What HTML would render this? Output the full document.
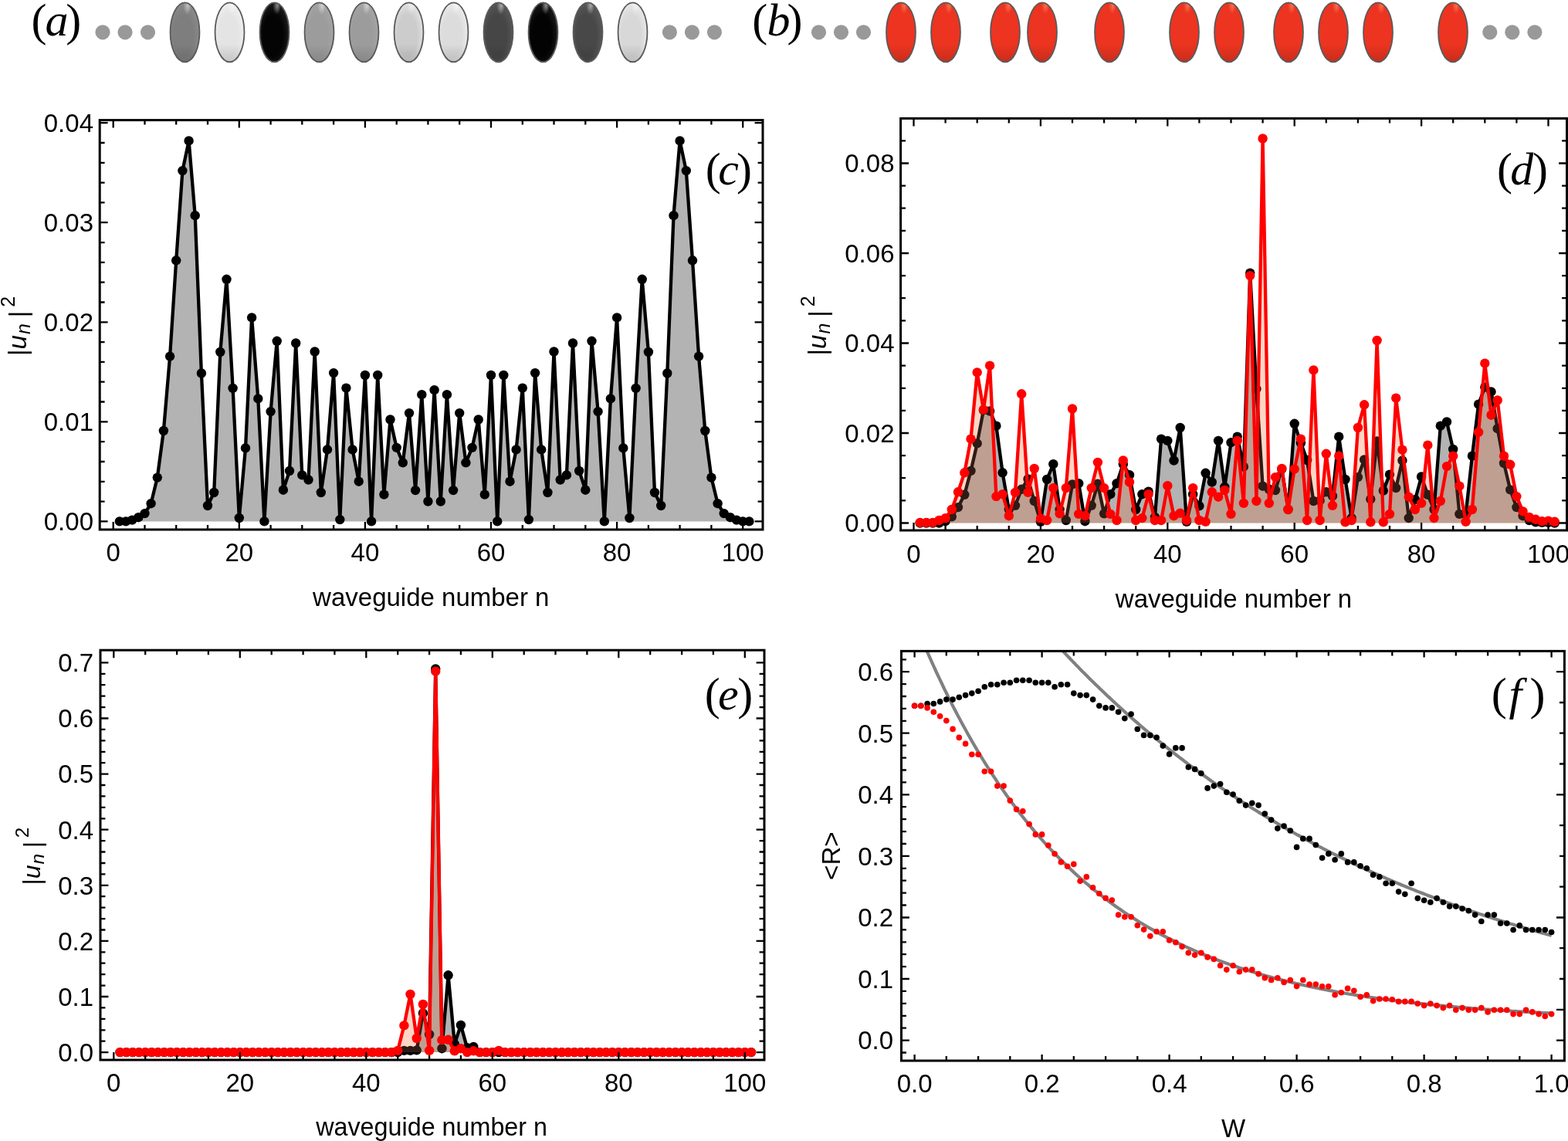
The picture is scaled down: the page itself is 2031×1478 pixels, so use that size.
<!DOCTYPE html>
<html><head><meta charset="utf-8"><title>Figure</title>
<style>html,body{margin:0;padding:0;background:#fff;overflow:hidden;}svg{display:block;}</style>
</head><body>
<svg width="2031" height="1478" viewBox="0 0 2031 1478" font-family="'Liberation Sans', Arial, Helvetica, sans-serif">
<rect width="2031" height="1478" fill="#fff"/>
<defs>
<radialGradient id="hl" cx="0.58" cy="0.06" r="0.14" fx="0.6" fy="0.05"><stop offset="0" stop-color="#fff" stop-opacity="0.5"/><stop offset="1" stop-color="#fff" stop-opacity="0"/></radialGradient>
<radialGradient id="hlr" cx="0.6" cy="0.06" r="0.13" fx="0.62" fy="0.05"><stop offset="0" stop-color="#ffb080" stop-opacity="0.5"/><stop offset="1" stop-color="#ffb080" stop-opacity="0"/></radialGradient>
<linearGradient id="sh" x1="0" y1="0" x2="1" y2="0"><stop offset="0" stop-color="#fff" stop-opacity="0.12"/><stop offset="0.5" stop-color="#000" stop-opacity="0.0"/><stop offset="1" stop-color="#fff" stop-opacity="0.12"/></linearGradient>
<linearGradient id="shv" x1="0" y1="0" x2="0" y2="1"><stop offset="0.7" stop-color="#000" stop-opacity="0"/><stop offset="1" stop-color="#000" stop-opacity="0.15"/></linearGradient>
</defs>
<defs><radialGradient id="eg0" cx="0.45" cy="0.55" r="0.62"><stop offset="0.55" stop-color="#7e7e7e"/><stop offset="1" stop-color="#8d8d8d"/></radialGradient><radialGradient id="eg1" cx="0.45" cy="0.55" r="0.62"><stop offset="0.55" stop-color="#e4e4e4"/><stop offset="1" stop-color="#f2f2f2"/></radialGradient><radialGradient id="eg2" cx="0.45" cy="0.55" r="0.62"><stop offset="0.55" stop-color="#040404"/><stop offset="1" stop-color="#222222"/></radialGradient><radialGradient id="eg3" cx="0.45" cy="0.55" r="0.62"><stop offset="0.55" stop-color="#9c9c9c"/><stop offset="1" stop-color="#a7a7a7"/></radialGradient><radialGradient id="eg4" cx="0.45" cy="0.55" r="0.62"><stop offset="0.55" stop-color="#9c9c9c"/><stop offset="1" stop-color="#a7a7a7"/></radialGradient><radialGradient id="eg5" cx="0.45" cy="0.55" r="0.62"><stop offset="0.55" stop-color="#cccccc"/><stop offset="1" stop-color="#e8e8e8"/></radialGradient><radialGradient id="eg6" cx="0.45" cy="0.55" r="0.62"><stop offset="0.55" stop-color="#dcdcdc"/><stop offset="1" stop-color="#efefef"/></radialGradient><radialGradient id="eg7" cx="0.45" cy="0.55" r="0.62"><stop offset="0.55" stop-color="#464646"/><stop offset="1" stop-color="#5c5c5c"/></radialGradient><radialGradient id="eg8" cx="0.45" cy="0.55" r="0.62"><stop offset="0.55" stop-color="#030303"/><stop offset="1" stop-color="#212121"/></radialGradient><radialGradient id="eg9" cx="0.45" cy="0.55" r="0.62"><stop offset="0.55" stop-color="#484848"/><stop offset="1" stop-color="#5d5d5d"/></radialGradient><radialGradient id="eg10" cx="0.45" cy="0.55" r="0.62"><stop offset="0.55" stop-color="#d8d8d8"/><stop offset="1" stop-color="#ededed"/></radialGradient></defs>
<ellipse cx="239.5" cy="41.85" rx="18.95" ry="38.4" fill="url(#eg0)"/>
<ellipse cx="239.5" cy="41.85" rx="18.95" ry="38.4" fill="url(#hl)"/>
<ellipse cx="239.5" cy="41.85" rx="18.95" ry="38.4" fill="url(#shv)" stroke="#5a5a5a" stroke-width="1.8"/>
<ellipse cx="297.5" cy="41.85" rx="18.95" ry="38.4" fill="url(#eg1)"/>
<ellipse cx="297.5" cy="41.85" rx="18.95" ry="38.4" fill="url(#hl)"/>
<ellipse cx="297.5" cy="41.85" rx="18.95" ry="38.4" fill="url(#shv)" stroke="#5a5a5a" stroke-width="1.8"/>
<ellipse cx="355.5" cy="41.85" rx="18.95" ry="38.4" fill="url(#eg2)"/>
<ellipse cx="355.5" cy="41.85" rx="18.95" ry="38.4" fill="url(#hl)"/>
<ellipse cx="355.5" cy="41.85" rx="18.95" ry="38.4" fill="url(#shv)" stroke="#5a5a5a" stroke-width="1.8"/>
<ellipse cx="413.5" cy="41.85" rx="18.95" ry="38.4" fill="url(#eg3)"/>
<ellipse cx="413.5" cy="41.85" rx="18.95" ry="38.4" fill="url(#hl)"/>
<ellipse cx="413.5" cy="41.85" rx="18.95" ry="38.4" fill="url(#shv)" stroke="#5a5a5a" stroke-width="1.8"/>
<ellipse cx="471.5" cy="41.85" rx="18.95" ry="38.4" fill="url(#eg4)"/>
<ellipse cx="471.5" cy="41.85" rx="18.95" ry="38.4" fill="url(#hl)"/>
<ellipse cx="471.5" cy="41.85" rx="18.95" ry="38.4" fill="url(#shv)" stroke="#5a5a5a" stroke-width="1.8"/>
<ellipse cx="529.5" cy="41.85" rx="18.95" ry="38.4" fill="url(#eg5)"/>
<ellipse cx="529.5" cy="41.85" rx="18.95" ry="38.4" fill="url(#hl)"/>
<ellipse cx="529.5" cy="41.85" rx="18.95" ry="38.4" fill="url(#shv)" stroke="#5a5a5a" stroke-width="1.8"/>
<ellipse cx="587.5" cy="41.85" rx="18.95" ry="38.4" fill="url(#eg6)"/>
<ellipse cx="587.5" cy="41.85" rx="18.95" ry="38.4" fill="url(#hl)"/>
<ellipse cx="587.5" cy="41.85" rx="18.95" ry="38.4" fill="url(#shv)" stroke="#5a5a5a" stroke-width="1.8"/>
<ellipse cx="645.5" cy="41.85" rx="18.95" ry="38.4" fill="url(#eg7)"/>
<ellipse cx="645.5" cy="41.85" rx="18.95" ry="38.4" fill="url(#hl)"/>
<ellipse cx="645.5" cy="41.85" rx="18.95" ry="38.4" fill="url(#shv)" stroke="#5a5a5a" stroke-width="1.8"/>
<ellipse cx="703.5" cy="41.85" rx="18.95" ry="38.4" fill="url(#eg8)"/>
<ellipse cx="703.5" cy="41.85" rx="18.95" ry="38.4" fill="url(#hl)"/>
<ellipse cx="703.5" cy="41.85" rx="18.95" ry="38.4" fill="url(#shv)" stroke="#5a5a5a" stroke-width="1.8"/>
<ellipse cx="761.5" cy="41.85" rx="18.95" ry="38.4" fill="url(#eg9)"/>
<ellipse cx="761.5" cy="41.85" rx="18.95" ry="38.4" fill="url(#hl)"/>
<ellipse cx="761.5" cy="41.85" rx="18.95" ry="38.4" fill="url(#shv)" stroke="#5a5a5a" stroke-width="1.8"/>
<ellipse cx="819.5" cy="41.85" rx="18.95" ry="38.4" fill="url(#eg10)"/>
<ellipse cx="819.5" cy="41.85" rx="18.95" ry="38.4" fill="url(#hl)"/>
<ellipse cx="819.5" cy="41.85" rx="18.95" ry="38.4" fill="url(#shv)" stroke="#5a5a5a" stroke-width="1.8"/>
<ellipse cx="1167" cy="41.85" rx="18.95" ry="38.4" fill="#ec3420"/>
<ellipse cx="1167" cy="41.85" rx="18.95" ry="38.4" fill="url(#hlr)"/>
<ellipse cx="1167" cy="41.85" rx="18.95" ry="38.4" fill="url(#shv)" stroke="#5a5a5a" stroke-width="1.8"/>
<ellipse cx="1225" cy="41.85" rx="18.95" ry="38.4" fill="#ec3420"/>
<ellipse cx="1225" cy="41.85" rx="18.95" ry="38.4" fill="url(#hlr)"/>
<ellipse cx="1225" cy="41.85" rx="18.95" ry="38.4" fill="url(#shv)" stroke="#5a5a5a" stroke-width="1.8"/>
<ellipse cx="1302" cy="41.85" rx="18.95" ry="38.4" fill="#ec3420"/>
<ellipse cx="1302" cy="41.85" rx="18.95" ry="38.4" fill="url(#hlr)"/>
<ellipse cx="1302" cy="41.85" rx="18.95" ry="38.4" fill="url(#shv)" stroke="#5a5a5a" stroke-width="1.8"/>
<ellipse cx="1350" cy="41.85" rx="18.95" ry="38.4" fill="#ec3420"/>
<ellipse cx="1350" cy="41.85" rx="18.95" ry="38.4" fill="url(#hlr)"/>
<ellipse cx="1350" cy="41.85" rx="18.95" ry="38.4" fill="url(#shv)" stroke="#5a5a5a" stroke-width="1.8"/>
<ellipse cx="1437" cy="41.85" rx="18.95" ry="38.4" fill="#ec3420"/>
<ellipse cx="1437" cy="41.85" rx="18.95" ry="38.4" fill="url(#hlr)"/>
<ellipse cx="1437" cy="41.85" rx="18.95" ry="38.4" fill="url(#shv)" stroke="#5a5a5a" stroke-width="1.8"/>
<ellipse cx="1534" cy="41.85" rx="18.95" ry="38.4" fill="#ec3420"/>
<ellipse cx="1534" cy="41.85" rx="18.95" ry="38.4" fill="url(#hlr)"/>
<ellipse cx="1534" cy="41.85" rx="18.95" ry="38.4" fill="url(#shv)" stroke="#5a5a5a" stroke-width="1.8"/>
<ellipse cx="1592" cy="41.85" rx="18.95" ry="38.4" fill="#ec3420"/>
<ellipse cx="1592" cy="41.85" rx="18.95" ry="38.4" fill="url(#hlr)"/>
<ellipse cx="1592" cy="41.85" rx="18.95" ry="38.4" fill="url(#shv)" stroke="#5a5a5a" stroke-width="1.8"/>
<ellipse cx="1669" cy="41.85" rx="18.95" ry="38.4" fill="#ec3420"/>
<ellipse cx="1669" cy="41.85" rx="18.95" ry="38.4" fill="url(#hlr)"/>
<ellipse cx="1669" cy="41.85" rx="18.95" ry="38.4" fill="url(#shv)" stroke="#5a5a5a" stroke-width="1.8"/>
<ellipse cx="1727" cy="41.85" rx="18.95" ry="38.4" fill="#ec3420"/>
<ellipse cx="1727" cy="41.85" rx="18.95" ry="38.4" fill="url(#hlr)"/>
<ellipse cx="1727" cy="41.85" rx="18.95" ry="38.4" fill="url(#shv)" stroke="#5a5a5a" stroke-width="1.8"/>
<ellipse cx="1785" cy="41.85" rx="18.95" ry="38.4" fill="#ec3420"/>
<ellipse cx="1785" cy="41.85" rx="18.95" ry="38.4" fill="url(#hlr)"/>
<ellipse cx="1785" cy="41.85" rx="18.95" ry="38.4" fill="url(#shv)" stroke="#5a5a5a" stroke-width="1.8"/>
<ellipse cx="1882" cy="41.85" rx="18.95" ry="38.4" fill="#ec3420"/>
<ellipse cx="1882" cy="41.85" rx="18.95" ry="38.4" fill="url(#hlr)"/>
<ellipse cx="1882" cy="41.85" rx="18.95" ry="38.4" fill="url(#shv)" stroke="#5a5a5a" stroke-width="1.8"/>
<g fill="#999"><circle cx="133" cy="41.8" r="9.6"/><circle cx="162" cy="41.8" r="9.6"/><circle cx="191.5" cy="41.8" r="9.6"/><circle cx="867.4" cy="41.8" r="9.6"/><circle cx="896.4" cy="41.8" r="9.6"/><circle cx="925.4" cy="41.8" r="9.6"/><circle cx="1060.5" cy="41.8" r="9.6"/><circle cx="1089.5" cy="41.8" r="9.6"/><circle cx="1118.5" cy="41.8" r="9.6"/><circle cx="1929.8" cy="41.8" r="9.6"/><circle cx="1958.8" cy="41.8" r="9.6"/><circle cx="1987.9" cy="41.8" r="9.6"/></g>
<g font-family="'Liberation Serif', 'Times New Roman', serif" font-size="60"><text x="40.5" y="46.0">(</text><text x="58.6" y="46.0" font-style="italic">a</text><text x="85.3" y="46.0">)</text></g>
<g font-family="'Liberation Serif', 'Times New Roman', serif" font-size="60"><text x="974.3" y="46.0">(</text><text x="993.5" y="46.0" font-style="italic">b</text><text x="1019.5" y="46.0">)</text></g>
<clipPath id="cc"><rect x="129.2" y="155.6" width="858.8" height="530.4"/></clipPath>
<g clip-path="url(#cc)">
<g>
<polygon points="154.9,675.4 154.9,675.4 163.0,675.4 171.2,673.6 179.3,670.2 187.5,665.1 195.6,652.2 203.8,618.6 211.9,558.0 220.1,461.6 228.2,337.3 236.4,221.1 244.6,182.4 252.7,279.2 260.9,483.5 269.0,655.0 277.2,638.0 285.3,456.0 293.5,361.8 301.6,502.9 309.8,671.0 318.0,580.4 326.1,411.4 334.3,516.4 342.4,675.4 350.6,533.1 358.7,441.8 366.9,634.7 375.0,610.0 383.2,444.5 391.3,615.4 399.5,621.5 407.7,455.5 415.8,638.0 424.0,582.4 432.1,483.1 440.3,673.1 448.4,502.6 456.6,582.4 464.7,623.7 472.9,486.0 481.1,675.4 489.2,486.0 497.4,640.6 505.5,543.5 513.7,579.9 521.8,599.3 530.0,535.1 538.1,635.1 546.3,511.2 554.4,649.5 562.6,505.2 570.8,649.5 578.9,511.2 587.1,635.1 595.2,535.1 603.4,599.3 611.5,579.9 619.7,543.5 627.8,640.6 636.0,486.0 644.2,675.4 652.3,486.0 660.5,623.7 668.6,582.4 676.8,502.6 684.9,673.1 693.1,483.1 701.2,582.4 709.4,638.0 717.5,455.5 725.7,621.5 733.9,615.4 742.0,444.5 750.2,610.0 758.3,634.7 766.5,441.8 774.6,533.1 782.8,675.4 790.9,516.4 799.1,411.4 807.3,580.4 815.4,671.0 823.6,502.9 831.7,361.8 839.9,456.0 848.0,638.0 856.2,655.0 864.3,483.5 872.5,279.2 880.6,182.4 888.8,221.1 897.0,337.3 905.1,461.6 913.3,558.0 921.4,618.6 929.6,652.2 937.7,665.1 945.9,670.2 954.0,673.6 962.2,675.4 970.4,675.4 970.4,675.4" fill="#b3b3b3"/>
<polyline points="154.9,675.4 163.0,675.4 171.2,673.6 179.3,670.2 187.5,665.1 195.6,652.2 203.8,618.6 211.9,558.0 220.1,461.6 228.2,337.3 236.4,221.1 244.6,182.4 252.7,279.2 260.9,483.5 269.0,655.0 277.2,638.0 285.3,456.0 293.5,361.8 301.6,502.9 309.8,671.0 318.0,580.4 326.1,411.4 334.3,516.4 342.4,675.4 350.6,533.1 358.7,441.8 366.9,634.7 375.0,610.0 383.2,444.5 391.3,615.4 399.5,621.5 407.7,455.5 415.8,638.0 424.0,582.4 432.1,483.1 440.3,673.1 448.4,502.6 456.6,582.4 464.7,623.7 472.9,486.0 481.1,675.4 489.2,486.0 497.4,640.6 505.5,543.5 513.7,579.9 521.8,599.3 530.0,535.1 538.1,635.1 546.3,511.2 554.4,649.5 562.6,505.2 570.8,649.5 578.9,511.2 587.1,635.1 595.2,535.1 603.4,599.3 611.5,579.9 619.7,543.5 627.8,640.6 636.0,486.0 644.2,675.4 652.3,486.0 660.5,623.7 668.6,582.4 676.8,502.6 684.9,673.1 693.1,483.1 701.2,582.4 709.4,638.0 717.5,455.5 725.7,621.5 733.9,615.4 742.0,444.5 750.2,610.0 758.3,634.7 766.5,441.8 774.6,533.1 782.8,675.4 790.9,516.4 799.1,411.4 807.3,580.4 815.4,671.0 823.6,502.9 831.7,361.8 839.9,456.0 848.0,638.0 856.2,655.0 864.3,483.5 872.5,279.2 880.6,182.4 888.8,221.1 897.0,337.3 905.1,461.6 913.3,558.0 921.4,618.6 929.6,652.2 937.7,665.1 945.9,670.2 954.0,673.6 962.2,675.4 970.4,675.4" fill="none" stroke="#000" stroke-width="4.3" stroke-linejoin="round"/>
<g fill="#000"><circle cx="154.9" cy="675.4" r="6.2"/><circle cx="163.0" cy="675.4" r="6.2"/><circle cx="171.2" cy="673.6" r="6.2"/><circle cx="179.3" cy="670.2" r="6.2"/><circle cx="187.5" cy="665.1" r="6.2"/><circle cx="195.6" cy="652.2" r="6.2"/><circle cx="203.8" cy="618.6" r="6.2"/><circle cx="211.9" cy="558.0" r="6.2"/><circle cx="220.1" cy="461.6" r="6.2"/><circle cx="228.2" cy="337.3" r="6.2"/><circle cx="236.4" cy="221.1" r="6.2"/><circle cx="244.6" cy="182.4" r="6.2"/><circle cx="252.7" cy="279.2" r="6.2"/><circle cx="260.9" cy="483.5" r="6.2"/><circle cx="269.0" cy="655.0" r="6.2"/><circle cx="277.2" cy="638.0" r="6.2"/><circle cx="285.3" cy="456.0" r="6.2"/><circle cx="293.5" cy="361.8" r="6.2"/><circle cx="301.6" cy="502.9" r="6.2"/><circle cx="309.8" cy="671.0" r="6.2"/><circle cx="318.0" cy="580.4" r="6.2"/><circle cx="326.1" cy="411.4" r="6.2"/><circle cx="334.3" cy="516.4" r="6.2"/><circle cx="342.4" cy="675.4" r="6.2"/><circle cx="350.6" cy="533.1" r="6.2"/><circle cx="358.7" cy="441.8" r="6.2"/><circle cx="366.9" cy="634.7" r="6.2"/><circle cx="375.0" cy="610.0" r="6.2"/><circle cx="383.2" cy="444.5" r="6.2"/><circle cx="391.3" cy="615.4" r="6.2"/><circle cx="399.5" cy="621.5" r="6.2"/><circle cx="407.7" cy="455.5" r="6.2"/><circle cx="415.8" cy="638.0" r="6.2"/><circle cx="424.0" cy="582.4" r="6.2"/><circle cx="432.1" cy="483.1" r="6.2"/><circle cx="440.3" cy="673.1" r="6.2"/><circle cx="448.4" cy="502.6" r="6.2"/><circle cx="456.6" cy="582.4" r="6.2"/><circle cx="464.7" cy="623.7" r="6.2"/><circle cx="472.9" cy="486.0" r="6.2"/><circle cx="481.1" cy="675.4" r="6.2"/><circle cx="489.2" cy="486.0" r="6.2"/><circle cx="497.4" cy="640.6" r="6.2"/><circle cx="505.5" cy="543.5" r="6.2"/><circle cx="513.7" cy="579.9" r="6.2"/><circle cx="521.8" cy="599.3" r="6.2"/><circle cx="530.0" cy="535.1" r="6.2"/><circle cx="538.1" cy="635.1" r="6.2"/><circle cx="546.3" cy="511.2" r="6.2"/><circle cx="554.4" cy="649.5" r="6.2"/><circle cx="562.6" cy="505.2" r="6.2"/><circle cx="570.8" cy="649.5" r="6.2"/><circle cx="578.9" cy="511.2" r="6.2"/><circle cx="587.1" cy="635.1" r="6.2"/><circle cx="595.2" cy="535.1" r="6.2"/><circle cx="603.4" cy="599.3" r="6.2"/><circle cx="611.5" cy="579.9" r="6.2"/><circle cx="619.7" cy="543.5" r="6.2"/><circle cx="627.8" cy="640.6" r="6.2"/><circle cx="636.0" cy="486.0" r="6.2"/><circle cx="644.2" cy="675.4" r="6.2"/><circle cx="652.3" cy="486.0" r="6.2"/><circle cx="660.5" cy="623.7" r="6.2"/><circle cx="668.6" cy="582.4" r="6.2"/><circle cx="676.8" cy="502.6" r="6.2"/><circle cx="684.9" cy="673.1" r="6.2"/><circle cx="693.1" cy="483.1" r="6.2"/><circle cx="701.2" cy="582.4" r="6.2"/><circle cx="709.4" cy="638.0" r="6.2"/><circle cx="717.5" cy="455.5" r="6.2"/><circle cx="725.7" cy="621.5" r="6.2"/><circle cx="733.9" cy="615.4" r="6.2"/><circle cx="742.0" cy="444.5" r="6.2"/><circle cx="750.2" cy="610.0" r="6.2"/><circle cx="758.3" cy="634.7" r="6.2"/><circle cx="766.5" cy="441.8" r="6.2"/><circle cx="774.6" cy="533.1" r="6.2"/><circle cx="782.8" cy="675.4" r="6.2"/><circle cx="790.9" cy="516.4" r="6.2"/><circle cx="799.1" cy="411.4" r="6.2"/><circle cx="807.3" cy="580.4" r="6.2"/><circle cx="815.4" cy="671.0" r="6.2"/><circle cx="823.6" cy="502.9" r="6.2"/><circle cx="831.7" cy="361.8" r="6.2"/><circle cx="839.9" cy="456.0" r="6.2"/><circle cx="848.0" cy="638.0" r="6.2"/><circle cx="856.2" cy="655.0" r="6.2"/><circle cx="864.3" cy="483.5" r="6.2"/><circle cx="872.5" cy="279.2" r="6.2"/><circle cx="880.6" cy="182.4" r="6.2"/><circle cx="888.8" cy="221.1" r="6.2"/><circle cx="897.0" cy="337.3" r="6.2"/><circle cx="905.1" cy="461.6" r="6.2"/><circle cx="913.3" cy="558.0" r="6.2"/><circle cx="921.4" cy="618.6" r="6.2"/><circle cx="929.6" cy="652.2" r="6.2"/><circle cx="937.7" cy="665.1" r="6.2"/><circle cx="945.9" cy="670.2" r="6.2"/><circle cx="954.0" cy="673.6" r="6.2"/><circle cx="962.2" cy="675.4" r="6.2"/><circle cx="970.4" cy="675.4" r="6.2"/></g>
</g>
</g>
<rect x="129.2" y="155.6" width="858.8" height="530.4" fill="none" stroke="#000" stroke-width="3"/>
<path d="M129.2 675.4h10.4 M129.2 546.3h10.4 M129.2 417.3h10.4 M129.2 288.2h10.4 M129.2 159.2h10.4 M129.2 649.6h6.4 M129.2 623.8h6.4 M129.2 598.0h6.4 M129.2 572.2h6.4 M129.2 520.5h6.4 M129.2 494.7h6.4 M129.2 468.9h6.4 M129.2 443.1h6.4 M129.2 391.5h6.4 M129.2 365.7h6.4 M129.2 339.9h6.4 M129.2 314.1h6.4 M129.2 262.4h6.4 M129.2 236.6h6.4 M129.2 210.8h6.4 M129.2 185.0h6.4 M988.0 675.4h-10.4 M988.0 546.3h-10.4 M988.0 417.3h-10.4 M988.0 288.2h-10.4 M988.0 159.2h-10.4 M988.0 649.6h-6.4 M988.0 623.8h-6.4 M988.0 598.0h-6.4 M988.0 572.2h-6.4 M988.0 520.5h-6.4 M988.0 494.7h-6.4 M988.0 468.9h-6.4 M988.0 443.1h-6.4 M988.0 391.5h-6.4 M988.0 365.7h-6.4 M988.0 339.9h-6.4 M988.0 314.1h-6.4 M988.0 262.4h-6.4 M988.0 236.6h-6.4 M988.0 210.8h-6.4 M988.0 185.0h-6.4" stroke="#000" stroke-width="2.3" fill="none"/>
<path d="M146.7 686.0v-10M146.7 155.6v10 M309.8 686.0v-10M309.8 155.6v10 M472.9 686.0v-10M472.9 155.6v10 M636.0 686.0v-10M636.0 155.6v10 M799.1 686.0v-10M799.1 155.6v10 M962.2 686.0v-10M962.2 155.6v10 M187.5 686.0v-6M187.5 155.6v6 M228.2 686.0v-6M228.2 155.6v6 M269.0 686.0v-6M269.0 155.6v6 M350.6 686.0v-6M350.6 155.6v6 M391.3 686.0v-6M391.3 155.6v6 M432.1 686.0v-6M432.1 155.6v6 M513.7 686.0v-6M513.7 155.6v6 M554.4 686.0v-6M554.4 155.6v6 M595.2 686.0v-6M595.2 155.6v6 M676.8 686.0v-6M676.8 155.6v6 M717.5 686.0v-6M717.5 155.6v6 M758.3 686.0v-6M758.3 155.6v6 M839.9 686.0v-6M839.9 155.6v6 M880.6 686.0v-6M880.6 155.6v6 M921.4 686.0v-6M921.4 155.6v6" stroke="#000" stroke-width="2.3" fill="none"/>
<text x="121.0" y="687.2" text-anchor="end" font-size="33" >0.00</text>
<text x="121.0" y="558.1" text-anchor="end" font-size="33" >0.01</text>
<text x="121.0" y="429.1" text-anchor="end" font-size="33" >0.02</text>
<text x="121.0" y="300.1" text-anchor="end" font-size="33" >0.03</text>
<text x="121.0" y="171.0" text-anchor="end" font-size="33" >0.04</text>
<text x="146.7" y="727.0" text-anchor="middle" font-size="33" >0</text>
<text x="309.8" y="727.0" text-anchor="middle" font-size="33" >20</text>
<text x="472.9" y="727.0" text-anchor="middle" font-size="33" >40</text>
<text x="636.0" y="727.0" text-anchor="middle" font-size="33" >60</text>
<text x="799.1" y="727.0" text-anchor="middle" font-size="33" >80</text>
<text x="962.2" y="727.0" text-anchor="middle" font-size="33" >100</text>
<text x="558.3" y="784.5" text-anchor="middle" font-size="33" >waveguide number n</text>
<g transform="translate(34.4,421.0) rotate(-90) scale(1.0)"><text x="-40" y="0" font-size="33">|<tspan font-style="italic">u</tspan><tspan font-style="italic" font-size="25" dy="5" dx="1">n</tspan><tspan dy="-4" dx="7.9">|</tspan><tspan font-size="25" dy="-16" dx="5">2</tspan></text></g>
<g font-family="'Liberation Serif', 'Times New Roman', serif" font-size="60"><text x="913.8" y="238.6">(</text><text x="930.3" y="238.6" font-style="italic">c</text><text x="954.1" y="238.6">)</text></g>
<clipPath id="cd"><rect x="1166.6" y="153.4" width="862.9000000000001" height="533.6"/></clipPath>
<g clip-path="url(#cd)">
<g>
<polygon points="1191.7,677.5 1191.7,677.5 1199.9,677.5 1208.2,677.5 1216.4,677.5 1224.6,675.2 1232.8,669.3 1241.0,657.1 1249.3,640.8 1257.5,609.9 1265.7,574.4 1273.9,531.3 1282.1,532.5 1290.4,551.7 1298.6,612.3 1306.8,660.0 1315.0,654.8 1323.2,633.8 1331.5,620.4 1339.7,649.0 1347.9,675.8 1356.1,621.0 1364.3,601.2 1372.6,660.0 1380.8,674.0 1389.0,627.4 1397.2,626.2 1405.4,675.2 1413.7,654.8 1421.9,626.8 1430.1,665.3 1438.3,640.2 1446.5,626.2 1454.8,601.2 1463.0,615.2 1471.2,660.0 1479.4,640.2 1487.6,636.7 1495.9,669.9 1504.1,568.6 1512.3,570.9 1520.5,596.5 1528.7,554.0 1537.0,675.8 1545.2,640.2 1553.4,655.4 1561.6,612.8 1569.8,624.5 1578.1,570.9 1586.3,630.9 1594.5,573.2 1602.7,565.7 1610.9,604.7 1619.2,353.6 1627.4,503.9 1635.6,629.7 1643.8,633.8 1652.0,635.0 1660.3,607.6 1668.5,660.0 1676.7,548.8 1684.9,573.8 1693.1,596.0 1701.4,649.0 1709.6,648.4 1717.8,637.3 1726.0,642.5 1734.2,565.7 1742.5,621.0 1750.7,671.1 1758.9,618.1 1767.1,595.4 1775.3,646.6 1783.6,571.5 1791.8,635.6 1800.0,614.6 1808.2,632.1 1816.4,596.5 1824.7,671.1 1832.9,647.2 1841.1,617.5 1849.3,640.8 1857.5,660.0 1865.8,551.7 1874.0,546.4 1882.2,582.0 1890.4,665.9 1898.6,665.9 1906.9,590.7 1915.1,523.7 1923.3,501.6 1931.5,507.4 1939.7,555.2 1948.0,600.0 1956.2,634.4 1964.4,657.1 1972.6,668.2 1980.8,674.0 1989.1,676.3 1997.3,676.9 2005.5,676.9 2013.7,677.5 2013.7,677.5" fill="#b3b3b3"/>
<polyline points="1191.7,677.5 1199.9,677.5 1208.2,677.5 1216.4,677.5 1224.6,675.2 1232.8,669.3 1241.0,657.1 1249.3,640.8 1257.5,609.9 1265.7,574.4 1273.9,531.3 1282.1,532.5 1290.4,551.7 1298.6,612.3 1306.8,660.0 1315.0,654.8 1323.2,633.8 1331.5,620.4 1339.7,649.0 1347.9,675.8 1356.1,621.0 1364.3,601.2 1372.6,660.0 1380.8,674.0 1389.0,627.4 1397.2,626.2 1405.4,675.2 1413.7,654.8 1421.9,626.8 1430.1,665.3 1438.3,640.2 1446.5,626.2 1454.8,601.2 1463.0,615.2 1471.2,660.0 1479.4,640.2 1487.6,636.7 1495.9,669.9 1504.1,568.6 1512.3,570.9 1520.5,596.5 1528.7,554.0 1537.0,675.8 1545.2,640.2 1553.4,655.4 1561.6,612.8 1569.8,624.5 1578.1,570.9 1586.3,630.9 1594.5,573.2 1602.7,565.7 1610.9,604.7 1619.2,353.6 1627.4,503.9 1635.6,629.7 1643.8,633.8 1652.0,635.0 1660.3,607.6 1668.5,660.0 1676.7,548.8 1684.9,573.8 1693.1,596.0 1701.4,649.0 1709.6,648.4 1717.8,637.3 1726.0,642.5 1734.2,565.7 1742.5,621.0 1750.7,671.1 1758.9,618.1 1767.1,595.4 1775.3,646.6 1783.6,571.5 1791.8,635.6 1800.0,614.6 1808.2,632.1 1816.4,596.5 1824.7,671.1 1832.9,647.2 1841.1,617.5 1849.3,640.8 1857.5,660.0 1865.8,551.7 1874.0,546.4 1882.2,582.0 1890.4,665.9 1898.6,665.9 1906.9,590.7 1915.1,523.7 1923.3,501.6 1931.5,507.4 1939.7,555.2 1948.0,600.0 1956.2,634.4 1964.4,657.1 1972.6,668.2 1980.8,674.0 1989.1,676.3 1997.3,676.9 2005.5,676.9 2013.7,677.5" fill="none" stroke="#000" stroke-width="4.3" stroke-linejoin="round"/>
<g fill="#000"><circle cx="1191.7" cy="677.5" r="6.2"/><circle cx="1199.9" cy="677.5" r="6.2"/><circle cx="1208.2" cy="677.5" r="6.2"/><circle cx="1216.4" cy="677.5" r="6.2"/><circle cx="1224.6" cy="675.2" r="6.2"/><circle cx="1232.8" cy="669.3" r="6.2"/><circle cx="1241.0" cy="657.1" r="6.2"/><circle cx="1249.3" cy="640.8" r="6.2"/><circle cx="1257.5" cy="609.9" r="6.2"/><circle cx="1265.7" cy="574.4" r="6.2"/><circle cx="1273.9" cy="531.3" r="6.2"/><circle cx="1282.1" cy="532.5" r="6.2"/><circle cx="1290.4" cy="551.7" r="6.2"/><circle cx="1298.6" cy="612.3" r="6.2"/><circle cx="1306.8" cy="660.0" r="6.2"/><circle cx="1315.0" cy="654.8" r="6.2"/><circle cx="1323.2" cy="633.8" r="6.2"/><circle cx="1331.5" cy="620.4" r="6.2"/><circle cx="1339.7" cy="649.0" r="6.2"/><circle cx="1347.9" cy="675.8" r="6.2"/><circle cx="1356.1" cy="621.0" r="6.2"/><circle cx="1364.3" cy="601.2" r="6.2"/><circle cx="1372.6" cy="660.0" r="6.2"/><circle cx="1380.8" cy="674.0" r="6.2"/><circle cx="1389.0" cy="627.4" r="6.2"/><circle cx="1397.2" cy="626.2" r="6.2"/><circle cx="1405.4" cy="675.2" r="6.2"/><circle cx="1413.7" cy="654.8" r="6.2"/><circle cx="1421.9" cy="626.8" r="6.2"/><circle cx="1430.1" cy="665.3" r="6.2"/><circle cx="1438.3" cy="640.2" r="6.2"/><circle cx="1446.5" cy="626.2" r="6.2"/><circle cx="1454.8" cy="601.2" r="6.2"/><circle cx="1463.0" cy="615.2" r="6.2"/><circle cx="1471.2" cy="660.0" r="6.2"/><circle cx="1479.4" cy="640.2" r="6.2"/><circle cx="1487.6" cy="636.7" r="6.2"/><circle cx="1495.9" cy="669.9" r="6.2"/><circle cx="1504.1" cy="568.6" r="6.2"/><circle cx="1512.3" cy="570.9" r="6.2"/><circle cx="1520.5" cy="596.5" r="6.2"/><circle cx="1528.7" cy="554.0" r="6.2"/><circle cx="1537.0" cy="675.8" r="6.2"/><circle cx="1545.2" cy="640.2" r="6.2"/><circle cx="1553.4" cy="655.4" r="6.2"/><circle cx="1561.6" cy="612.8" r="6.2"/><circle cx="1569.8" cy="624.5" r="6.2"/><circle cx="1578.1" cy="570.9" r="6.2"/><circle cx="1586.3" cy="630.9" r="6.2"/><circle cx="1594.5" cy="573.2" r="6.2"/><circle cx="1602.7" cy="565.7" r="6.2"/><circle cx="1610.9" cy="604.7" r="6.2"/><circle cx="1619.2" cy="353.6" r="6.2"/><circle cx="1627.4" cy="503.9" r="6.2"/><circle cx="1635.6" cy="629.7" r="6.2"/><circle cx="1643.8" cy="633.8" r="6.2"/><circle cx="1652.0" cy="635.0" r="6.2"/><circle cx="1660.3" cy="607.6" r="6.2"/><circle cx="1668.5" cy="660.0" r="6.2"/><circle cx="1676.7" cy="548.8" r="6.2"/><circle cx="1684.9" cy="573.8" r="6.2"/><circle cx="1693.1" cy="596.0" r="6.2"/><circle cx="1701.4" cy="649.0" r="6.2"/><circle cx="1709.6" cy="648.4" r="6.2"/><circle cx="1717.8" cy="637.3" r="6.2"/><circle cx="1726.0" cy="642.5" r="6.2"/><circle cx="1734.2" cy="565.7" r="6.2"/><circle cx="1742.5" cy="621.0" r="6.2"/><circle cx="1750.7" cy="671.1" r="6.2"/><circle cx="1758.9" cy="618.1" r="6.2"/><circle cx="1767.1" cy="595.4" r="6.2"/><circle cx="1775.3" cy="646.6" r="6.2"/><circle cx="1783.6" cy="571.5" r="6.2"/><circle cx="1791.8" cy="635.6" r="6.2"/><circle cx="1800.0" cy="614.6" r="6.2"/><circle cx="1808.2" cy="632.1" r="6.2"/><circle cx="1816.4" cy="596.5" r="6.2"/><circle cx="1824.7" cy="671.1" r="6.2"/><circle cx="1832.9" cy="647.2" r="6.2"/><circle cx="1841.1" cy="617.5" r="6.2"/><circle cx="1849.3" cy="640.8" r="6.2"/><circle cx="1857.5" cy="660.0" r="6.2"/><circle cx="1865.8" cy="551.7" r="6.2"/><circle cx="1874.0" cy="546.4" r="6.2"/><circle cx="1882.2" cy="582.0" r="6.2"/><circle cx="1890.4" cy="665.9" r="6.2"/><circle cx="1898.6" cy="665.9" r="6.2"/><circle cx="1906.9" cy="590.7" r="6.2"/><circle cx="1915.1" cy="523.7" r="6.2"/><circle cx="1923.3" cy="501.6" r="6.2"/><circle cx="1931.5" cy="507.4" r="6.2"/><circle cx="1939.7" cy="555.2" r="6.2"/><circle cx="1948.0" cy="600.0" r="6.2"/><circle cx="1956.2" cy="634.4" r="6.2"/><circle cx="1964.4" cy="657.1" r="6.2"/><circle cx="1972.6" cy="668.2" r="6.2"/><circle cx="1980.8" cy="674.0" r="6.2"/><circle cx="1989.1" cy="676.3" r="6.2"/><circle cx="1997.3" cy="676.9" r="6.2"/><circle cx="2005.5" cy="676.9" r="6.2"/><circle cx="2013.7" cy="677.5" r="6.2"/></g>
</g>
<g>
<polygon points="1191.7,677.5 1191.7,676.9 1199.9,676.9 1208.2,676.9 1216.4,674.0 1224.6,671.1 1232.8,660.0 1241.0,637.3 1249.3,612.3 1257.5,568.6 1265.7,482.4 1273.9,530.7 1282.1,473.6 1290.4,643.1 1298.6,640.2 1306.8,668.2 1315.0,637.9 1323.2,510.3 1331.5,637.9 1339.7,607.0 1347.9,671.7 1356.1,674.0 1364.3,632.1 1372.6,665.3 1380.8,632.1 1389.0,529.5 1397.2,665.9 1405.4,668.2 1413.7,632.1 1421.9,598.9 1430.1,632.1 1438.3,665.9 1446.5,674.0 1454.8,596.5 1463.0,624.5 1471.2,674.0 1479.4,671.1 1487.6,640.2 1495.9,674.0 1504.1,674.0 1512.3,629.2 1520.5,668.2 1528.7,664.7 1537.0,674.0 1545.2,632.1 1553.4,674.0 1561.6,675.8 1569.8,637.3 1578.1,643.7 1586.3,635.0 1594.5,665.9 1602.7,570.9 1610.9,651.9 1619.2,357.1 1627.4,649.0 1635.6,179.5 1643.8,651.9 1652.0,618.1 1660.3,607.0 1668.5,660.0 1676.7,607.6 1684.9,568.6 1693.1,674.0 1701.4,479.4 1709.6,674.0 1717.8,587.8 1726.0,654.8 1734.2,590.7 1742.5,676.3 1750.7,674.0 1758.9,554.0 1767.1,524.3 1775.3,676.3 1783.6,441.0 1791.8,676.3 1800.0,665.9 1808.2,515.6 1816.4,582.6 1824.7,643.7 1832.9,660.0 1841.1,651.9 1849.3,576.7 1857.5,671.1 1865.8,649.0 1874.0,604.1 1882.2,590.7 1890.4,629.7 1898.6,675.8 1906.9,660.0 1915.1,559.8 1923.3,470.7 1931.5,537.7 1939.7,518.5 1948.0,590.7 1956.2,601.8 1964.4,643.1 1972.6,662.4 1980.8,669.9 1989.1,672.8 1997.3,675.2 2005.5,674.6 2013.7,675.8 2013.7,677.5" fill="#ffe5d7" style="mix-blend-mode:multiply"/>
<polygon points="1191.7,677.5 1191.7,676.9 1199.9,676.9 1208.2,676.9 1216.4,674.0 1224.6,671.1 1232.8,660.0 1241.0,637.3 1249.3,612.3 1257.5,568.6 1265.7,482.4 1273.9,530.7 1282.1,473.6 1290.4,643.1 1298.6,640.2 1306.8,668.2 1315.0,637.9 1323.2,510.3 1331.5,637.9 1339.7,607.0 1347.9,671.7 1356.1,674.0 1364.3,632.1 1372.6,665.3 1380.8,632.1 1389.0,529.5 1397.2,665.9 1405.4,668.2 1413.7,632.1 1421.9,598.9 1430.1,632.1 1438.3,665.9 1446.5,674.0 1454.8,596.5 1463.0,624.5 1471.2,674.0 1479.4,671.1 1487.6,640.2 1495.9,674.0 1504.1,674.0 1512.3,629.2 1520.5,668.2 1528.7,664.7 1537.0,674.0 1545.2,632.1 1553.4,674.0 1561.6,675.8 1569.8,637.3 1578.1,643.7 1586.3,635.0 1594.5,665.9 1602.7,570.9 1610.9,651.9 1619.2,357.1 1627.4,649.0 1635.6,179.5 1643.8,651.9 1652.0,618.1 1660.3,607.0 1668.5,660.0 1676.7,607.6 1684.9,568.6 1693.1,674.0 1701.4,479.4 1709.6,674.0 1717.8,587.8 1726.0,654.8 1734.2,590.7 1742.5,676.3 1750.7,674.0 1758.9,554.0 1767.1,524.3 1775.3,676.3 1783.6,441.0 1791.8,676.3 1800.0,665.9 1808.2,515.6 1816.4,582.6 1824.7,643.7 1832.9,660.0 1841.1,651.9 1849.3,576.7 1857.5,671.1 1865.8,649.0 1874.0,604.1 1882.2,590.7 1890.4,629.7 1898.6,675.8 1906.9,660.0 1915.1,559.8 1923.3,470.7 1931.5,537.7 1939.7,518.5 1948.0,590.7 1956.2,601.8 1964.4,643.1 1972.6,662.4 1980.8,669.9 1989.1,672.8 1997.3,675.2 2005.5,674.6 2013.7,675.8 2013.7,677.5" fill="rgb(250,150,122)" fill-opacity="0.18"/>
<polyline points="1191.7,676.9 1199.9,676.9 1208.2,676.9 1216.4,674.0 1224.6,671.1 1232.8,660.0 1241.0,637.3 1249.3,612.3 1257.5,568.6 1265.7,482.4 1273.9,530.7 1282.1,473.6 1290.4,643.1 1298.6,640.2 1306.8,668.2 1315.0,637.9 1323.2,510.3 1331.5,637.9 1339.7,607.0 1347.9,671.7 1356.1,674.0 1364.3,632.1 1372.6,665.3 1380.8,632.1 1389.0,529.5 1397.2,665.9 1405.4,668.2 1413.7,632.1 1421.9,598.9 1430.1,632.1 1438.3,665.9 1446.5,674.0 1454.8,596.5 1463.0,624.5 1471.2,674.0 1479.4,671.1 1487.6,640.2 1495.9,674.0 1504.1,674.0 1512.3,629.2 1520.5,668.2 1528.7,664.7 1537.0,674.0 1545.2,632.1 1553.4,674.0 1561.6,675.8 1569.8,637.3 1578.1,643.7 1586.3,635.0 1594.5,665.9 1602.7,570.9 1610.9,651.9 1619.2,357.1 1627.4,649.0 1635.6,179.5 1643.8,651.9 1652.0,618.1 1660.3,607.0 1668.5,660.0 1676.7,607.6 1684.9,568.6 1693.1,674.0 1701.4,479.4 1709.6,674.0 1717.8,587.8 1726.0,654.8 1734.2,590.7 1742.5,676.3 1750.7,674.0 1758.9,554.0 1767.1,524.3 1775.3,676.3 1783.6,441.0 1791.8,676.3 1800.0,665.9 1808.2,515.6 1816.4,582.6 1824.7,643.7 1832.9,660.0 1841.1,651.9 1849.3,576.7 1857.5,671.1 1865.8,649.0 1874.0,604.1 1882.2,590.7 1890.4,629.7 1898.6,675.8 1906.9,660.0 1915.1,559.8 1923.3,470.7 1931.5,537.7 1939.7,518.5 1948.0,590.7 1956.2,601.8 1964.4,643.1 1972.6,662.4 1980.8,669.9 1989.1,672.8 1997.3,675.2 2005.5,674.6 2013.7,675.8" fill="none" stroke="#ff0000" stroke-width="4.3" stroke-linejoin="round"/>
<g fill="#ff0000"><circle cx="1191.7" cy="676.9" r="6.2"/><circle cx="1199.9" cy="676.9" r="6.2"/><circle cx="1208.2" cy="676.9" r="6.2"/><circle cx="1216.4" cy="674.0" r="6.2"/><circle cx="1224.6" cy="671.1" r="6.2"/><circle cx="1232.8" cy="660.0" r="6.2"/><circle cx="1241.0" cy="637.3" r="6.2"/><circle cx="1249.3" cy="612.3" r="6.2"/><circle cx="1257.5" cy="568.6" r="6.2"/><circle cx="1265.7" cy="482.4" r="6.2"/><circle cx="1273.9" cy="530.7" r="6.2"/><circle cx="1282.1" cy="473.6" r="6.2"/><circle cx="1290.4" cy="643.1" r="6.2"/><circle cx="1298.6" cy="640.2" r="6.2"/><circle cx="1306.8" cy="668.2" r="6.2"/><circle cx="1315.0" cy="637.9" r="6.2"/><circle cx="1323.2" cy="510.3" r="6.2"/><circle cx="1331.5" cy="637.9" r="6.2"/><circle cx="1339.7" cy="607.0" r="6.2"/><circle cx="1347.9" cy="671.7" r="6.2"/><circle cx="1356.1" cy="674.0" r="6.2"/><circle cx="1364.3" cy="632.1" r="6.2"/><circle cx="1372.6" cy="665.3" r="6.2"/><circle cx="1380.8" cy="632.1" r="6.2"/><circle cx="1389.0" cy="529.5" r="6.2"/><circle cx="1397.2" cy="665.9" r="6.2"/><circle cx="1405.4" cy="668.2" r="6.2"/><circle cx="1413.7" cy="632.1" r="6.2"/><circle cx="1421.9" cy="598.9" r="6.2"/><circle cx="1430.1" cy="632.1" r="6.2"/><circle cx="1438.3" cy="665.9" r="6.2"/><circle cx="1446.5" cy="674.0" r="6.2"/><circle cx="1454.8" cy="596.5" r="6.2"/><circle cx="1463.0" cy="624.5" r="6.2"/><circle cx="1471.2" cy="674.0" r="6.2"/><circle cx="1479.4" cy="671.1" r="6.2"/><circle cx="1487.6" cy="640.2" r="6.2"/><circle cx="1495.9" cy="674.0" r="6.2"/><circle cx="1504.1" cy="674.0" r="6.2"/><circle cx="1512.3" cy="629.2" r="6.2"/><circle cx="1520.5" cy="668.2" r="6.2"/><circle cx="1528.7" cy="664.7" r="6.2"/><circle cx="1537.0" cy="674.0" r="6.2"/><circle cx="1545.2" cy="632.1" r="6.2"/><circle cx="1553.4" cy="674.0" r="6.2"/><circle cx="1561.6" cy="675.8" r="6.2"/><circle cx="1569.8" cy="637.3" r="6.2"/><circle cx="1578.1" cy="643.7" r="6.2"/><circle cx="1586.3" cy="635.0" r="6.2"/><circle cx="1594.5" cy="665.9" r="6.2"/><circle cx="1602.7" cy="570.9" r="6.2"/><circle cx="1610.9" cy="651.9" r="6.2"/><circle cx="1619.2" cy="357.1" r="6.2"/><circle cx="1627.4" cy="649.0" r="6.2"/><circle cx="1635.6" cy="179.5" r="6.2"/><circle cx="1643.8" cy="651.9" r="6.2"/><circle cx="1652.0" cy="618.1" r="6.2"/><circle cx="1660.3" cy="607.0" r="6.2"/><circle cx="1668.5" cy="660.0" r="6.2"/><circle cx="1676.7" cy="607.6" r="6.2"/><circle cx="1684.9" cy="568.6" r="6.2"/><circle cx="1693.1" cy="674.0" r="6.2"/><circle cx="1701.4" cy="479.4" r="6.2"/><circle cx="1709.6" cy="674.0" r="6.2"/><circle cx="1717.8" cy="587.8" r="6.2"/><circle cx="1726.0" cy="654.8" r="6.2"/><circle cx="1734.2" cy="590.7" r="6.2"/><circle cx="1742.5" cy="676.3" r="6.2"/><circle cx="1750.7" cy="674.0" r="6.2"/><circle cx="1758.9" cy="554.0" r="6.2"/><circle cx="1767.1" cy="524.3" r="6.2"/><circle cx="1775.3" cy="676.3" r="6.2"/><circle cx="1783.6" cy="441.0" r="6.2"/><circle cx="1791.8" cy="676.3" r="6.2"/><circle cx="1800.0" cy="665.9" r="6.2"/><circle cx="1808.2" cy="515.6" r="6.2"/><circle cx="1816.4" cy="582.6" r="6.2"/><circle cx="1824.7" cy="643.7" r="6.2"/><circle cx="1832.9" cy="660.0" r="6.2"/><circle cx="1841.1" cy="651.9" r="6.2"/><circle cx="1849.3" cy="576.7" r="6.2"/><circle cx="1857.5" cy="671.1" r="6.2"/><circle cx="1865.8" cy="649.0" r="6.2"/><circle cx="1874.0" cy="604.1" r="6.2"/><circle cx="1882.2" cy="590.7" r="6.2"/><circle cx="1890.4" cy="629.7" r="6.2"/><circle cx="1898.6" cy="675.8" r="6.2"/><circle cx="1906.9" cy="660.0" r="6.2"/><circle cx="1915.1" cy="559.8" r="6.2"/><circle cx="1923.3" cy="470.7" r="6.2"/><circle cx="1931.5" cy="537.7" r="6.2"/><circle cx="1939.7" cy="518.5" r="6.2"/><circle cx="1948.0" cy="590.7" r="6.2"/><circle cx="1956.2" cy="601.8" r="6.2"/><circle cx="1964.4" cy="643.1" r="6.2"/><circle cx="1972.6" cy="662.4" r="6.2"/><circle cx="1980.8" cy="669.9" r="6.2"/><circle cx="1989.1" cy="672.8" r="6.2"/><circle cx="1997.3" cy="675.2" r="6.2"/><circle cx="2005.5" cy="674.6" r="6.2"/><circle cx="2013.7" cy="675.8" r="6.2"/></g>
</g>
</g>
<rect x="1166.6" y="153.4" width="862.9" height="533.6" fill="none" stroke="#000" stroke-width="3"/>
<path d="M1166.6 677.5h10.4 M1166.6 561.0h10.4 M1166.6 444.5h10.4 M1166.6 328.0h10.4 M1166.6 211.5h10.4 M1166.6 648.4h6.4 M1166.6 619.2h6.4 M1166.6 590.1h6.4 M1166.6 531.9h6.4 M1166.6 502.8h6.4 M1166.6 473.6h6.4 M1166.6 415.4h6.4 M1166.6 386.2h6.4 M1166.6 357.1h6.4 M1166.6 298.9h6.4 M1166.6 269.7h6.4 M1166.6 240.6h6.4 M1166.6 182.4h6.4 M2029.5 677.5h-10.4 M2029.5 561.0h-10.4 M2029.5 444.5h-10.4 M2029.5 328.0h-10.4 M2029.5 211.5h-10.4 M2029.5 648.4h-6.4 M2029.5 619.2h-6.4 M2029.5 590.1h-6.4 M2029.5 531.9h-6.4 M2029.5 502.8h-6.4 M2029.5 473.6h-6.4 M2029.5 415.4h-6.4 M2029.5 386.2h-6.4 M2029.5 357.1h-6.4 M2029.5 298.9h-6.4 M2029.5 269.7h-6.4 M2029.5 240.6h-6.4 M2029.5 182.4h-6.4" stroke="#000" stroke-width="2.3" fill="none"/>
<path d="M1183.5 687.0v-10M1183.5 153.4v10 M1347.9 687.0v-10M1347.9 153.4v10 M1512.3 687.0v-10M1512.3 153.4v10 M1676.7 687.0v-10M1676.7 153.4v10 M1841.1 687.0v-10M1841.1 153.4v10 M2005.5 687.0v-10M2005.5 153.4v10 M1224.6 687.0v-6M1224.6 153.4v6 M1265.7 687.0v-6M1265.7 153.4v6 M1306.8 687.0v-6M1306.8 153.4v6 M1389.0 687.0v-6M1389.0 153.4v6 M1430.1 687.0v-6M1430.1 153.4v6 M1471.2 687.0v-6M1471.2 153.4v6 M1553.4 687.0v-6M1553.4 153.4v6 M1594.5 687.0v-6M1594.5 153.4v6 M1635.6 687.0v-6M1635.6 153.4v6 M1717.8 687.0v-6M1717.8 153.4v6 M1758.9 687.0v-6M1758.9 153.4v6 M1800.0 687.0v-6M1800.0 153.4v6 M1882.2 687.0v-6M1882.2 153.4v6 M1923.3 687.0v-6M1923.3 153.4v6 M1964.4 687.0v-6M1964.4 153.4v6" stroke="#000" stroke-width="2.3" fill="none"/>
<text x="1158.5" y="689.3" text-anchor="end" font-size="33" >0.00</text>
<text x="1158.5" y="572.8" text-anchor="end" font-size="33" >0.02</text>
<text x="1158.5" y="456.3" text-anchor="end" font-size="33" >0.04</text>
<text x="1158.5" y="339.8" text-anchor="end" font-size="33" >0.06</text>
<text x="1158.5" y="223.3" text-anchor="end" font-size="33" >0.08</text>
<text x="1183.5" y="729.3" text-anchor="middle" font-size="33" >0</text>
<text x="1347.9" y="729.3" text-anchor="middle" font-size="33" >20</text>
<text x="1512.3" y="729.3" text-anchor="middle" font-size="33" >40</text>
<text x="1676.7" y="729.3" text-anchor="middle" font-size="33" >60</text>
<text x="1841.1" y="729.3" text-anchor="middle" font-size="33" >80</text>
<text x="2005.5" y="729.3" text-anchor="middle" font-size="33" >100</text>
<text x="1598.0" y="787.1" text-anchor="middle" font-size="33" >waveguide number n</text>
<g transform="translate(1070.0,420.5) rotate(-90) scale(1.0)"><text x="-40" y="0" font-size="33">|<tspan font-style="italic">u</tspan><tspan font-style="italic" font-size="25" dy="5" dx="1">n</tspan><tspan dy="-4" dx="7.9">|</tspan><tspan font-size="25" dy="-16" dx="5">2</tspan></text></g>
<g font-family="'Liberation Serif', 'Times New Roman', serif" font-size="60"><text x="1939.0" y="238.5">(</text><text x="1956.3" y="238.5" font-style="italic">d</text><text x="1985.0" y="238.5">)</text></g>
<clipPath id="ce"><rect x="130.0" y="842.2" width="860.0" height="530.8"/></clipPath>
<g clip-path="url(#ce)">
<g>
<polygon points="155.5,1363.1 155.5,1363.1 163.7,1363.1 171.8,1363.1 180.0,1363.1 188.2,1363.1 196.4,1363.1 204.5,1363.1 212.7,1363.1 220.9,1363.1 229.1,1363.1 237.2,1363.1 245.4,1363.1 253.6,1363.1 261.8,1363.1 269.9,1363.1 278.1,1363.1 286.3,1363.1 294.5,1363.1 302.6,1363.1 310.8,1363.1 319.0,1363.1 327.2,1363.1 335.3,1363.1 343.5,1363.1 351.7,1363.1 359.9,1363.1 368.0,1363.1 376.2,1363.1 384.4,1363.1 392.6,1363.1 400.7,1363.1 408.9,1363.1 417.1,1363.1 425.3,1363.1 433.4,1363.1 441.6,1363.1 449.8,1363.1 458.0,1363.1 466.1,1363.1 474.3,1363.1 482.5,1363.1 490.7,1363.1 498.8,1363.1 507.0,1363.1 515.2,1363.1 523.4,1360.9 531.5,1360.9 539.7,1360.4 547.9,1312.5 556.1,1340.0 564.2,866.4 572.4,1358.2 580.6,1263.3 588.8,1352.3 596.9,1327.9 605.1,1357.3 613.3,1355.9 621.5,1363.1 629.6,1363.1 637.8,1363.1 646.0,1363.1 654.2,1363.1 662.3,1363.1 670.5,1363.1 678.7,1363.1 686.9,1363.1 695.0,1363.1 703.2,1363.1 711.4,1363.1 719.5,1363.1 727.7,1363.1 735.9,1363.1 744.1,1363.1 752.2,1363.1 760.4,1363.1 768.6,1363.1 776.8,1363.1 785.0,1363.1 793.1,1363.1 801.3,1363.1 809.5,1363.1 817.7,1363.1 825.8,1363.1 834.0,1363.1 842.2,1363.1 850.4,1363.1 858.5,1363.1 866.7,1363.1 874.9,1363.1 883.1,1363.1 891.2,1363.1 899.4,1363.1 907.6,1363.1 915.8,1363.1 923.9,1363.1 932.1,1363.1 940.3,1363.1 948.5,1363.1 956.6,1363.1 964.8,1363.1 973.0,1363.1 973.0,1363.1" fill="#b3b3b3"/>
<polyline points="155.5,1363.1 163.7,1363.1 171.8,1363.1 180.0,1363.1 188.2,1363.1 196.4,1363.1 204.5,1363.1 212.7,1363.1 220.9,1363.1 229.1,1363.1 237.2,1363.1 245.4,1363.1 253.6,1363.1 261.8,1363.1 269.9,1363.1 278.1,1363.1 286.3,1363.1 294.5,1363.1 302.6,1363.1 310.8,1363.1 319.0,1363.1 327.2,1363.1 335.3,1363.1 343.5,1363.1 351.7,1363.1 359.9,1363.1 368.0,1363.1 376.2,1363.1 384.4,1363.1 392.6,1363.1 400.7,1363.1 408.9,1363.1 417.1,1363.1 425.3,1363.1 433.4,1363.1 441.6,1363.1 449.8,1363.1 458.0,1363.1 466.1,1363.1 474.3,1363.1 482.5,1363.1 490.7,1363.1 498.8,1363.1 507.0,1363.1 515.2,1363.1 523.4,1360.9 531.5,1360.9 539.7,1360.4 547.9,1312.5 556.1,1340.0 564.2,866.4 572.4,1358.2 580.6,1263.3 588.8,1352.3 596.9,1327.9 605.1,1357.3 613.3,1355.9 621.5,1363.1 629.6,1363.1 637.8,1363.1 646.0,1363.1 654.2,1363.1 662.3,1363.1 670.5,1363.1 678.7,1363.1 686.9,1363.1 695.0,1363.1 703.2,1363.1 711.4,1363.1 719.5,1363.1 727.7,1363.1 735.9,1363.1 744.1,1363.1 752.2,1363.1 760.4,1363.1 768.6,1363.1 776.8,1363.1 785.0,1363.1 793.1,1363.1 801.3,1363.1 809.5,1363.1 817.7,1363.1 825.8,1363.1 834.0,1363.1 842.2,1363.1 850.4,1363.1 858.5,1363.1 866.7,1363.1 874.9,1363.1 883.1,1363.1 891.2,1363.1 899.4,1363.1 907.6,1363.1 915.8,1363.1 923.9,1363.1 932.1,1363.1 940.3,1363.1 948.5,1363.1 956.6,1363.1 964.8,1363.1 973.0,1363.1" fill="none" stroke="#000" stroke-width="4.3" stroke-linejoin="round"/>
<g fill="#000"><circle cx="155.5" cy="1363.1" r="6.2"/><circle cx="163.7" cy="1363.1" r="6.2"/><circle cx="171.8" cy="1363.1" r="6.2"/><circle cx="180.0" cy="1363.1" r="6.2"/><circle cx="188.2" cy="1363.1" r="6.2"/><circle cx="196.4" cy="1363.1" r="6.2"/><circle cx="204.5" cy="1363.1" r="6.2"/><circle cx="212.7" cy="1363.1" r="6.2"/><circle cx="220.9" cy="1363.1" r="6.2"/><circle cx="229.1" cy="1363.1" r="6.2"/><circle cx="237.2" cy="1363.1" r="6.2"/><circle cx="245.4" cy="1363.1" r="6.2"/><circle cx="253.6" cy="1363.1" r="6.2"/><circle cx="261.8" cy="1363.1" r="6.2"/><circle cx="269.9" cy="1363.1" r="6.2"/><circle cx="278.1" cy="1363.1" r="6.2"/><circle cx="286.3" cy="1363.1" r="6.2"/><circle cx="294.5" cy="1363.1" r="6.2"/><circle cx="302.6" cy="1363.1" r="6.2"/><circle cx="310.8" cy="1363.1" r="6.2"/><circle cx="319.0" cy="1363.1" r="6.2"/><circle cx="327.2" cy="1363.1" r="6.2"/><circle cx="335.3" cy="1363.1" r="6.2"/><circle cx="343.5" cy="1363.1" r="6.2"/><circle cx="351.7" cy="1363.1" r="6.2"/><circle cx="359.9" cy="1363.1" r="6.2"/><circle cx="368.0" cy="1363.1" r="6.2"/><circle cx="376.2" cy="1363.1" r="6.2"/><circle cx="384.4" cy="1363.1" r="6.2"/><circle cx="392.6" cy="1363.1" r="6.2"/><circle cx="400.7" cy="1363.1" r="6.2"/><circle cx="408.9" cy="1363.1" r="6.2"/><circle cx="417.1" cy="1363.1" r="6.2"/><circle cx="425.3" cy="1363.1" r="6.2"/><circle cx="433.4" cy="1363.1" r="6.2"/><circle cx="441.6" cy="1363.1" r="6.2"/><circle cx="449.8" cy="1363.1" r="6.2"/><circle cx="458.0" cy="1363.1" r="6.2"/><circle cx="466.1" cy="1363.1" r="6.2"/><circle cx="474.3" cy="1363.1" r="6.2"/><circle cx="482.5" cy="1363.1" r="6.2"/><circle cx="490.7" cy="1363.1" r="6.2"/><circle cx="498.8" cy="1363.1" r="6.2"/><circle cx="507.0" cy="1363.1" r="6.2"/><circle cx="515.2" cy="1363.1" r="6.2"/><circle cx="523.4" cy="1360.9" r="6.2"/><circle cx="531.5" cy="1360.9" r="6.2"/><circle cx="539.7" cy="1360.4" r="6.2"/><circle cx="547.9" cy="1312.5" r="6.2"/><circle cx="556.1" cy="1340.0" r="6.2"/><circle cx="564.2" cy="866.4" r="6.2"/><circle cx="572.4" cy="1358.2" r="6.2"/><circle cx="580.6" cy="1263.3" r="6.2"/><circle cx="588.8" cy="1352.3" r="6.2"/><circle cx="596.9" cy="1327.9" r="6.2"/><circle cx="605.1" cy="1357.3" r="6.2"/><circle cx="613.3" cy="1355.9" r="6.2"/><circle cx="621.5" cy="1363.1" r="6.2"/><circle cx="629.6" cy="1363.1" r="6.2"/><circle cx="637.8" cy="1363.1" r="6.2"/><circle cx="646.0" cy="1363.1" r="6.2"/><circle cx="654.2" cy="1363.1" r="6.2"/><circle cx="662.3" cy="1363.1" r="6.2"/><circle cx="670.5" cy="1363.1" r="6.2"/><circle cx="678.7" cy="1363.1" r="6.2"/><circle cx="686.9" cy="1363.1" r="6.2"/><circle cx="695.0" cy="1363.1" r="6.2"/><circle cx="703.2" cy="1363.1" r="6.2"/><circle cx="711.4" cy="1363.1" r="6.2"/><circle cx="719.5" cy="1363.1" r="6.2"/><circle cx="727.7" cy="1363.1" r="6.2"/><circle cx="735.9" cy="1363.1" r="6.2"/><circle cx="744.1" cy="1363.1" r="6.2"/><circle cx="752.2" cy="1363.1" r="6.2"/><circle cx="760.4" cy="1363.1" r="6.2"/><circle cx="768.6" cy="1363.1" r="6.2"/><circle cx="776.8" cy="1363.1" r="6.2"/><circle cx="785.0" cy="1363.1" r="6.2"/><circle cx="793.1" cy="1363.1" r="6.2"/><circle cx="801.3" cy="1363.1" r="6.2"/><circle cx="809.5" cy="1363.1" r="6.2"/><circle cx="817.7" cy="1363.1" r="6.2"/><circle cx="825.8" cy="1363.1" r="6.2"/><circle cx="834.0" cy="1363.1" r="6.2"/><circle cx="842.2" cy="1363.1" r="6.2"/><circle cx="850.4" cy="1363.1" r="6.2"/><circle cx="858.5" cy="1363.1" r="6.2"/><circle cx="866.7" cy="1363.1" r="6.2"/><circle cx="874.9" cy="1363.1" r="6.2"/><circle cx="883.1" cy="1363.1" r="6.2"/><circle cx="891.2" cy="1363.1" r="6.2"/><circle cx="899.4" cy="1363.1" r="6.2"/><circle cx="907.6" cy="1363.1" r="6.2"/><circle cx="915.8" cy="1363.1" r="6.2"/><circle cx="923.9" cy="1363.1" r="6.2"/><circle cx="932.1" cy="1363.1" r="6.2"/><circle cx="940.3" cy="1363.1" r="6.2"/><circle cx="948.5" cy="1363.1" r="6.2"/><circle cx="956.6" cy="1363.1" r="6.2"/><circle cx="964.8" cy="1363.1" r="6.2"/><circle cx="973.0" cy="1363.1" r="6.2"/></g>
</g>
<g>
<polygon points="155.5,1363.1 155.5,1363.1 163.7,1363.1 171.8,1363.1 180.0,1363.1 188.2,1363.1 196.4,1363.1 204.5,1363.1 212.7,1363.1 220.9,1363.1 229.1,1363.1 237.2,1363.1 245.4,1363.1 253.6,1363.1 261.8,1363.1 269.9,1363.1 278.1,1363.1 286.3,1363.1 294.5,1363.1 302.6,1363.1 310.8,1363.1 319.0,1363.1 327.2,1363.1 335.3,1363.1 343.5,1363.1 351.7,1363.1 359.9,1363.1 368.0,1363.1 376.2,1363.1 384.4,1363.1 392.6,1363.1 400.7,1363.1 408.9,1363.1 417.1,1363.1 425.3,1363.1 433.4,1363.1 441.6,1363.1 449.8,1363.1 458.0,1363.1 466.1,1363.1 474.3,1363.1 482.5,1363.1 490.7,1363.1 498.8,1363.1 507.0,1363.1 515.2,1360.9 523.4,1328.4 531.5,1287.9 539.7,1345.0 547.9,1301.0 556.1,1360.9 564.2,869.7 572.4,1347.2 580.6,1346.8 588.8,1361.3 596.9,1358.2 605.1,1363.1 613.3,1361.3 621.5,1363.1 629.6,1363.1 637.8,1363.1 646.0,1360.9 654.2,1363.1 662.3,1363.1 670.5,1363.1 678.7,1363.1 686.9,1363.1 695.0,1363.1 703.2,1363.1 711.4,1363.1 719.5,1363.1 727.7,1363.1 735.9,1363.1 744.1,1363.1 752.2,1363.1 760.4,1363.1 768.6,1363.1 776.8,1363.1 785.0,1363.1 793.1,1363.1 801.3,1363.1 809.5,1363.1 817.7,1363.1 825.8,1363.1 834.0,1363.1 842.2,1363.1 850.4,1363.1 858.5,1363.1 866.7,1363.1 874.9,1363.1 883.1,1363.1 891.2,1363.1 899.4,1363.1 907.6,1363.1 915.8,1363.1 923.9,1363.1 932.1,1363.1 940.3,1363.1 948.5,1363.1 956.6,1363.1 964.8,1363.1 973.0,1363.1 973.0,1363.1" fill="#ffe5d7" style="mix-blend-mode:multiply"/>
<polygon points="155.5,1363.1 155.5,1363.1 163.7,1363.1 171.8,1363.1 180.0,1363.1 188.2,1363.1 196.4,1363.1 204.5,1363.1 212.7,1363.1 220.9,1363.1 229.1,1363.1 237.2,1363.1 245.4,1363.1 253.6,1363.1 261.8,1363.1 269.9,1363.1 278.1,1363.1 286.3,1363.1 294.5,1363.1 302.6,1363.1 310.8,1363.1 319.0,1363.1 327.2,1363.1 335.3,1363.1 343.5,1363.1 351.7,1363.1 359.9,1363.1 368.0,1363.1 376.2,1363.1 384.4,1363.1 392.6,1363.1 400.7,1363.1 408.9,1363.1 417.1,1363.1 425.3,1363.1 433.4,1363.1 441.6,1363.1 449.8,1363.1 458.0,1363.1 466.1,1363.1 474.3,1363.1 482.5,1363.1 490.7,1363.1 498.8,1363.1 507.0,1363.1 515.2,1360.9 523.4,1328.4 531.5,1287.9 539.7,1345.0 547.9,1301.0 556.1,1360.9 564.2,869.7 572.4,1347.2 580.6,1346.8 588.8,1361.3 596.9,1358.2 605.1,1363.1 613.3,1361.3 621.5,1363.1 629.6,1363.1 637.8,1363.1 646.0,1360.9 654.2,1363.1 662.3,1363.1 670.5,1363.1 678.7,1363.1 686.9,1363.1 695.0,1363.1 703.2,1363.1 711.4,1363.1 719.5,1363.1 727.7,1363.1 735.9,1363.1 744.1,1363.1 752.2,1363.1 760.4,1363.1 768.6,1363.1 776.8,1363.1 785.0,1363.1 793.1,1363.1 801.3,1363.1 809.5,1363.1 817.7,1363.1 825.8,1363.1 834.0,1363.1 842.2,1363.1 850.4,1363.1 858.5,1363.1 866.7,1363.1 874.9,1363.1 883.1,1363.1 891.2,1363.1 899.4,1363.1 907.6,1363.1 915.8,1363.1 923.9,1363.1 932.1,1363.1 940.3,1363.1 948.5,1363.1 956.6,1363.1 964.8,1363.1 973.0,1363.1 973.0,1363.1" fill="rgb(250,150,122)" fill-opacity="0.18"/>
<polyline points="155.5,1363.1 163.7,1363.1 171.8,1363.1 180.0,1363.1 188.2,1363.1 196.4,1363.1 204.5,1363.1 212.7,1363.1 220.9,1363.1 229.1,1363.1 237.2,1363.1 245.4,1363.1 253.6,1363.1 261.8,1363.1 269.9,1363.1 278.1,1363.1 286.3,1363.1 294.5,1363.1 302.6,1363.1 310.8,1363.1 319.0,1363.1 327.2,1363.1 335.3,1363.1 343.5,1363.1 351.7,1363.1 359.9,1363.1 368.0,1363.1 376.2,1363.1 384.4,1363.1 392.6,1363.1 400.7,1363.1 408.9,1363.1 417.1,1363.1 425.3,1363.1 433.4,1363.1 441.6,1363.1 449.8,1363.1 458.0,1363.1 466.1,1363.1 474.3,1363.1 482.5,1363.1 490.7,1363.1 498.8,1363.1 507.0,1363.1 515.2,1360.9 523.4,1328.4 531.5,1287.9 539.7,1345.0 547.9,1301.0 556.1,1360.9 564.2,869.7 572.4,1347.2 580.6,1346.8 588.8,1361.3 596.9,1358.2 605.1,1363.1 613.3,1361.3 621.5,1363.1 629.6,1363.1 637.8,1363.1 646.0,1360.9 654.2,1363.1 662.3,1363.1 670.5,1363.1 678.7,1363.1 686.9,1363.1 695.0,1363.1 703.2,1363.1 711.4,1363.1 719.5,1363.1 727.7,1363.1 735.9,1363.1 744.1,1363.1 752.2,1363.1 760.4,1363.1 768.6,1363.1 776.8,1363.1 785.0,1363.1 793.1,1363.1 801.3,1363.1 809.5,1363.1 817.7,1363.1 825.8,1363.1 834.0,1363.1 842.2,1363.1 850.4,1363.1 858.5,1363.1 866.7,1363.1 874.9,1363.1 883.1,1363.1 891.2,1363.1 899.4,1363.1 907.6,1363.1 915.8,1363.1 923.9,1363.1 932.1,1363.1 940.3,1363.1 948.5,1363.1 956.6,1363.1 964.8,1363.1 973.0,1363.1" fill="none" stroke="#ff0000" stroke-width="4.3" stroke-linejoin="round"/>
<g fill="#ff0000"><circle cx="155.5" cy="1363.1" r="6.2"/><circle cx="163.7" cy="1363.1" r="6.2"/><circle cx="171.8" cy="1363.1" r="6.2"/><circle cx="180.0" cy="1363.1" r="6.2"/><circle cx="188.2" cy="1363.1" r="6.2"/><circle cx="196.4" cy="1363.1" r="6.2"/><circle cx="204.5" cy="1363.1" r="6.2"/><circle cx="212.7" cy="1363.1" r="6.2"/><circle cx="220.9" cy="1363.1" r="6.2"/><circle cx="229.1" cy="1363.1" r="6.2"/><circle cx="237.2" cy="1363.1" r="6.2"/><circle cx="245.4" cy="1363.1" r="6.2"/><circle cx="253.6" cy="1363.1" r="6.2"/><circle cx="261.8" cy="1363.1" r="6.2"/><circle cx="269.9" cy="1363.1" r="6.2"/><circle cx="278.1" cy="1363.1" r="6.2"/><circle cx="286.3" cy="1363.1" r="6.2"/><circle cx="294.5" cy="1363.1" r="6.2"/><circle cx="302.6" cy="1363.1" r="6.2"/><circle cx="310.8" cy="1363.1" r="6.2"/><circle cx="319.0" cy="1363.1" r="6.2"/><circle cx="327.2" cy="1363.1" r="6.2"/><circle cx="335.3" cy="1363.1" r="6.2"/><circle cx="343.5" cy="1363.1" r="6.2"/><circle cx="351.7" cy="1363.1" r="6.2"/><circle cx="359.9" cy="1363.1" r="6.2"/><circle cx="368.0" cy="1363.1" r="6.2"/><circle cx="376.2" cy="1363.1" r="6.2"/><circle cx="384.4" cy="1363.1" r="6.2"/><circle cx="392.6" cy="1363.1" r="6.2"/><circle cx="400.7" cy="1363.1" r="6.2"/><circle cx="408.9" cy="1363.1" r="6.2"/><circle cx="417.1" cy="1363.1" r="6.2"/><circle cx="425.3" cy="1363.1" r="6.2"/><circle cx="433.4" cy="1363.1" r="6.2"/><circle cx="441.6" cy="1363.1" r="6.2"/><circle cx="449.8" cy="1363.1" r="6.2"/><circle cx="458.0" cy="1363.1" r="6.2"/><circle cx="466.1" cy="1363.1" r="6.2"/><circle cx="474.3" cy="1363.1" r="6.2"/><circle cx="482.5" cy="1363.1" r="6.2"/><circle cx="490.7" cy="1363.1" r="6.2"/><circle cx="498.8" cy="1363.1" r="6.2"/><circle cx="507.0" cy="1363.1" r="6.2"/><circle cx="515.2" cy="1360.9" r="6.2"/><circle cx="523.4" cy="1328.4" r="6.2"/><circle cx="531.5" cy="1287.9" r="6.2"/><circle cx="539.7" cy="1345.0" r="6.2"/><circle cx="547.9" cy="1301.0" r="6.2"/><circle cx="556.1" cy="1360.9" r="6.2"/><circle cx="564.2" cy="869.7" r="6.2"/><circle cx="572.4" cy="1347.2" r="6.2"/><circle cx="580.6" cy="1346.8" r="6.2"/><circle cx="588.8" cy="1361.3" r="6.2"/><circle cx="596.9" cy="1358.2" r="6.2"/><circle cx="605.1" cy="1363.1" r="6.2"/><circle cx="613.3" cy="1361.3" r="6.2"/><circle cx="621.5" cy="1363.1" r="6.2"/><circle cx="629.6" cy="1363.1" r="6.2"/><circle cx="637.8" cy="1363.1" r="6.2"/><circle cx="646.0" cy="1360.9" r="6.2"/><circle cx="654.2" cy="1363.1" r="6.2"/><circle cx="662.3" cy="1363.1" r="6.2"/><circle cx="670.5" cy="1363.1" r="6.2"/><circle cx="678.7" cy="1363.1" r="6.2"/><circle cx="686.9" cy="1363.1" r="6.2"/><circle cx="695.0" cy="1363.1" r="6.2"/><circle cx="703.2" cy="1363.1" r="6.2"/><circle cx="711.4" cy="1363.1" r="6.2"/><circle cx="719.5" cy="1363.1" r="6.2"/><circle cx="727.7" cy="1363.1" r="6.2"/><circle cx="735.9" cy="1363.1" r="6.2"/><circle cx="744.1" cy="1363.1" r="6.2"/><circle cx="752.2" cy="1363.1" r="6.2"/><circle cx="760.4" cy="1363.1" r="6.2"/><circle cx="768.6" cy="1363.1" r="6.2"/><circle cx="776.8" cy="1363.1" r="6.2"/><circle cx="785.0" cy="1363.1" r="6.2"/><circle cx="793.1" cy="1363.1" r="6.2"/><circle cx="801.3" cy="1363.1" r="6.2"/><circle cx="809.5" cy="1363.1" r="6.2"/><circle cx="817.7" cy="1363.1" r="6.2"/><circle cx="825.8" cy="1363.1" r="6.2"/><circle cx="834.0" cy="1363.1" r="6.2"/><circle cx="842.2" cy="1363.1" r="6.2"/><circle cx="850.4" cy="1363.1" r="6.2"/><circle cx="858.5" cy="1363.1" r="6.2"/><circle cx="866.7" cy="1363.1" r="6.2"/><circle cx="874.9" cy="1363.1" r="6.2"/><circle cx="883.1" cy="1363.1" r="6.2"/><circle cx="891.2" cy="1363.1" r="6.2"/><circle cx="899.4" cy="1363.1" r="6.2"/><circle cx="907.6" cy="1363.1" r="6.2"/><circle cx="915.8" cy="1363.1" r="6.2"/><circle cx="923.9" cy="1363.1" r="6.2"/><circle cx="932.1" cy="1363.1" r="6.2"/><circle cx="940.3" cy="1363.1" r="6.2"/><circle cx="948.5" cy="1363.1" r="6.2"/><circle cx="956.6" cy="1363.1" r="6.2"/><circle cx="964.8" cy="1363.1" r="6.2"/><circle cx="973.0" cy="1363.1" r="6.2"/></g>
</g>
</g>
<rect x="130.0" y="842.2" width="860.0" height="530.8" fill="none" stroke="#000" stroke-width="3"/>
<path d="M130.0 1363.1h10.4 M130.0 1291.0h10.4 M130.0 1218.9h10.4 M130.0 1146.8h10.4 M130.0 1074.7h10.4 M130.0 1002.6h10.4 M130.0 930.5h10.4 M130.0 858.4h10.4 M130.0 1348.7h6.4 M130.0 1334.3h6.4 M130.0 1319.8h6.4 M130.0 1305.4h6.4 M130.0 1276.6h6.4 M130.0 1262.2h6.4 M130.0 1247.7h6.4 M130.0 1233.3h6.4 M130.0 1204.5h6.4 M130.0 1190.1h6.4 M130.0 1175.6h6.4 M130.0 1161.2h6.4 M130.0 1132.4h6.4 M130.0 1118.0h6.4 M130.0 1103.5h6.4 M130.0 1089.1h6.4 M130.0 1060.3h6.4 M130.0 1045.9h6.4 M130.0 1031.4h6.4 M130.0 1017.0h6.4 M130.0 988.2h6.4 M130.0 973.8h6.4 M130.0 959.3h6.4 M130.0 944.9h6.4 M130.0 916.1h6.4 M130.0 901.7h6.4 M130.0 887.2h6.4 M130.0 872.8h6.4 M990.0 1363.1h-10.4 M990.0 1291.0h-10.4 M990.0 1218.9h-10.4 M990.0 1146.8h-10.4 M990.0 1074.7h-10.4 M990.0 1002.6h-10.4 M990.0 930.5h-10.4 M990.0 858.4h-10.4 M990.0 1348.7h-6.4 M990.0 1334.3h-6.4 M990.0 1319.8h-6.4 M990.0 1305.4h-6.4 M990.0 1276.6h-6.4 M990.0 1262.2h-6.4 M990.0 1247.7h-6.4 M990.0 1233.3h-6.4 M990.0 1204.5h-6.4 M990.0 1190.1h-6.4 M990.0 1175.6h-6.4 M990.0 1161.2h-6.4 M990.0 1132.4h-6.4 M990.0 1118.0h-6.4 M990.0 1103.5h-6.4 M990.0 1089.1h-6.4 M990.0 1060.3h-6.4 M990.0 1045.9h-6.4 M990.0 1031.4h-6.4 M990.0 1017.0h-6.4 M990.0 988.2h-6.4 M990.0 973.8h-6.4 M990.0 959.3h-6.4 M990.0 944.9h-6.4 M990.0 916.1h-6.4 M990.0 901.7h-6.4 M990.0 887.2h-6.4 M990.0 872.8h-6.4" stroke="#000" stroke-width="2.3" fill="none"/>
<path d="M147.3 1373.0v-10M147.3 842.2v10 M310.8 1373.0v-10M310.8 842.2v10 M474.3 1373.0v-10M474.3 842.2v10 M637.8 1373.0v-10M637.8 842.2v10 M801.3 1373.0v-10M801.3 842.2v10 M964.8 1373.0v-10M964.8 842.2v10 M188.2 1373.0v-6M188.2 842.2v6 M229.1 1373.0v-6M229.1 842.2v6 M269.9 1373.0v-6M269.9 842.2v6 M351.7 1373.0v-6M351.7 842.2v6 M392.6 1373.0v-6M392.6 842.2v6 M433.4 1373.0v-6M433.4 842.2v6 M515.2 1373.0v-6M515.2 842.2v6 M556.1 1373.0v-6M556.1 842.2v6 M596.9 1373.0v-6M596.9 842.2v6 M678.7 1373.0v-6M678.7 842.2v6 M719.5 1373.0v-6M719.5 842.2v6 M760.4 1373.0v-6M760.4 842.2v6 M842.2 1373.0v-6M842.2 842.2v6 M883.1 1373.0v-6M883.1 842.2v6 M923.9 1373.0v-6M923.9 842.2v6" stroke="#000" stroke-width="2.3" fill="none"/>
<text x="121.0" y="1374.9" text-anchor="end" font-size="33" >0.0</text>
<text x="121.0" y="1302.8" text-anchor="end" font-size="33" >0.1</text>
<text x="121.0" y="1230.7" text-anchor="end" font-size="33" >0.2</text>
<text x="121.0" y="1158.6" text-anchor="end" font-size="33" >0.3</text>
<text x="121.0" y="1086.5" text-anchor="end" font-size="33" >0.4</text>
<text x="121.0" y="1014.4" text-anchor="end" font-size="33" >0.5</text>
<text x="121.0" y="942.3" text-anchor="end" font-size="33" >0.6</text>
<text x="121.0" y="870.2" text-anchor="end" font-size="33" >0.7</text>
<text x="147.3" y="1414.0" text-anchor="middle" font-size="33" >0</text>
<text x="310.8" y="1414.0" text-anchor="middle" font-size="33" >20</text>
<text x="474.3" y="1414.0" text-anchor="middle" font-size="33" >40</text>
<text x="637.8" y="1414.0" text-anchor="middle" font-size="33" >60</text>
<text x="801.3" y="1414.0" text-anchor="middle" font-size="33" >80</text>
<text x="964.8" y="1414.0" text-anchor="middle" font-size="33" >100</text>
<text x="559.1" y="1470.6" text-anchor="middle" font-size="32.3" >waveguide number n</text>
<g transform="translate(52.0,1107.8) rotate(-90) scale(0.97)"><text x="-40" y="0" font-size="33">|<tspan font-style="italic">u</tspan><tspan font-style="italic" font-size="25" dy="5" dx="1">n</tspan><tspan dy="-4" dx="7.9">|</tspan><tspan font-size="25" dy="-16" dx="5">2</tspan></text></g>
<g font-family="'Liberation Serif', 'Times New Roman', serif" font-size="60"><text x="912.7" y="918.9">(</text><text x="929.9" y="918.9" font-style="italic">e</text><text x="955.3" y="918.9">)</text></g>
<clipPath id="cf"><rect x="1167.5" y="843.4" width="858.9000000000001" height="530.6"/></clipPath>
<g clip-path="url(#cf)">
<polyline points="1184.6,804.9 1186.7,810.0 1188.7,815.1 1190.8,820.1 1192.9,825.0 1194.9,829.9 1197.0,834.8 1199.1,839.6 1201.1,844.4 1203.2,849.1 1205.3,853.8 1207.3,858.4 1209.4,863.0 1211.5,867.5 1213.5,872.0 1215.6,876.4 1217.7,880.8 1219.8,885.2 1221.8,889.5 1223.9,893.8 1226.0,898.0 1228.0,902.2 1230.1,906.3 1232.2,910.4 1234.2,914.5 1236.3,918.5 1238.4,922.5 1240.4,926.4 1242.5,930.3 1244.6,934.2 1246.6,938.0 1248.7,941.8 1250.8,945.6 1252.8,949.3 1254.9,953.0 1257.0,956.6 1259.0,960.2 1261.1,963.8 1263.2,967.3 1265.2,970.8 1267.3,974.3 1269.4,977.7 1271.4,981.1 1273.5,984.5 1275.6,987.8 1277.6,991.1 1279.7,994.4 1281.8,997.6 1283.8,1000.8 1285.9,1004.0 1288.0,1007.2 1290.1,1010.3 1292.1,1013.3 1294.2,1016.4 1296.3,1019.4 1298.3,1022.4 1300.4,1025.4 1302.5,1028.3 1304.5,1031.2 1306.6,1034.1 1308.7,1036.9 1310.7,1039.7 1312.8,1042.5 1314.9,1045.3 1316.9,1048.0 1319.0,1050.7 1321.1,1053.4 1323.1,1056.0 1325.2,1058.7 1327.3,1061.3 1329.3,1063.8 1331.4,1066.4 1333.5,1068.9 1335.5,1071.4 1337.6,1073.9 1339.7,1076.4 1341.7,1078.8 1343.8,1081.2 1345.9,1083.6 1347.9,1085.9 1350.0,1088.2 1352.1,1090.6 1354.1,1092.8 1356.2,1095.1 1358.3,1097.4 1360.4,1099.6 1362.4,1101.8 1364.5,1103.9 1366.6,1106.1 1368.6,1108.2 1370.7,1110.3 1372.8,1112.4 1374.8,1114.5 1376.9,1116.6 1379.0,1118.6 1381.0,1120.6 1383.1,1122.6 1385.2,1124.6 1387.2,1126.5 1389.3,1128.4 1391.4,1130.4 1393.4,1132.2 1395.5,1134.1 1397.6,1136.0 1399.6,1137.8 1401.7,1139.6 1403.8,1141.4 1405.8,1143.2 1407.9,1145.0 1410.0,1146.7 1412.0,1148.5 1414.1,1150.2 1416.2,1151.9 1418.2,1153.6 1420.3,1155.2 1422.4,1156.9 1424.4,1158.5 1426.5,1160.1 1428.6,1161.7 1430.7,1163.3 1432.7,1164.9 1434.8,1166.4 1436.9,1168.0 1438.9,1169.5 1441.0,1171.0 1443.1,1172.5 1445.1,1174.0 1447.2,1175.4 1449.3,1176.9 1451.3,1178.3 1453.4,1179.8 1455.5,1181.2 1457.5,1182.6 1459.6,1183.9 1461.7,1185.3 1463.7,1186.6 1465.8,1188.0 1467.9,1189.3 1469.9,1190.6 1472.0,1191.9 1474.1,1193.2 1476.1,1194.5 1478.2,1195.7 1480.3,1197.0 1482.3,1198.2 1484.4,1199.5 1486.5,1200.7 1488.5,1201.9 1490.6,1203.1 1492.7,1204.2 1494.8,1205.4 1496.8,1206.6 1498.9,1207.7 1501.0,1208.8 1503.0,1209.9 1505.1,1211.1 1507.2,1212.2 1509.2,1213.2 1511.3,1214.3 1513.4,1215.4 1515.4,1216.4 1517.5,1217.5 1519.6,1218.5 1521.6,1219.5 1523.7,1220.6 1525.8,1221.6 1527.8,1222.6 1529.9,1223.5 1532.0,1224.5 1534.0,1225.5 1536.1,1226.4 1538.2,1227.4 1540.2,1228.3 1542.3,1229.2 1544.4,1230.2 1546.4,1231.1 1548.5,1232.0 1550.6,1232.9 1552.6,1233.8 1554.7,1234.6 1556.8,1235.5 1558.8,1236.3 1560.9,1237.2 1563.0,1238.0 1565.1,1238.9 1567.1,1239.7 1569.2,1240.5 1571.3,1241.3 1573.3,1242.1 1575.4,1242.9 1577.5,1243.7 1579.5,1244.5 1581.6,1245.2 1583.7,1246.0 1585.7,1246.7 1587.8,1247.5 1589.9,1248.2 1591.9,1249.0 1594.0,1249.7 1596.1,1250.4 1598.1,1251.1 1600.2,1251.8 1602.3,1252.5 1604.3,1253.2 1606.4,1253.9 1608.5,1254.6 1610.5,1255.2 1612.6,1255.9 1614.7,1256.5 1616.7,1257.2 1618.8,1257.8 1620.9,1258.5 1622.9,1259.1 1625.0,1259.7 1627.1,1260.3 1629.1,1261.0 1631.2,1261.6 1633.3,1262.2 1635.4,1262.8 1637.4,1263.3 1639.5,1263.9 1641.6,1264.5 1643.6,1265.1 1645.7,1265.6 1647.8,1266.2 1649.8,1266.8 1651.9,1267.3 1654.0,1267.8 1656.0,1268.4 1658.1,1268.9 1660.2,1269.4 1662.2,1270.0 1664.3,1270.5 1666.4,1271.0 1668.4,1271.5 1670.5,1272.0 1672.6,1272.5 1674.6,1273.0 1676.7,1273.5 1678.8,1274.0 1680.8,1274.4 1682.9,1274.9 1685.0,1275.4 1687.0,1275.8 1689.1,1276.3 1691.2,1276.8 1693.2,1277.2 1695.3,1277.7 1697.4,1278.1 1699.4,1278.5 1701.5,1279.0 1703.6,1279.4 1705.7,1279.8 1707.7,1280.2 1709.8,1280.7 1711.9,1281.1 1713.9,1281.5 1716.0,1281.9 1718.1,1282.3 1720.1,1282.7 1722.2,1283.1 1724.3,1283.4 1726.3,1283.8 1728.4,1284.2 1730.5,1284.6 1732.5,1285.0 1734.6,1285.3 1736.7,1285.7 1738.7,1286.1 1740.8,1286.4 1742.9,1286.8 1744.9,1287.1 1747.0,1287.5 1749.1,1287.8 1751.1,1288.2 1753.2,1288.5 1755.3,1288.8 1757.3,1289.2 1759.4,1289.5 1761.5,1289.8 1763.5,1290.1 1765.6,1290.4 1767.7,1290.8 1769.8,1291.1 1771.8,1291.4 1773.9,1291.7 1776.0,1292.0 1778.0,1292.3 1780.1,1292.6 1782.2,1292.9 1784.2,1293.2 1786.3,1293.5 1788.4,1293.7 1790.4,1294.0 1792.5,1294.3 1794.6,1294.6 1796.6,1294.9 1798.7,1295.1 1800.8,1295.4 1802.8,1295.7 1804.9,1295.9 1807.0,1296.2 1809.0,1296.4 1811.1,1296.7 1813.2,1297.0 1815.2,1297.2 1817.3,1297.5 1819.4,1297.7 1821.4,1297.9 1823.5,1298.2 1825.6,1298.4 1827.6,1298.7 1829.7,1298.9 1831.8,1299.1 1833.8,1299.4 1835.9,1299.6 1838.0,1299.8 1840.1,1300.0 1842.1,1300.2 1844.2,1300.5 1846.3,1300.7 1848.3,1300.9 1850.4,1301.1 1852.5,1301.3 1854.5,1301.5 1856.6,1301.7 1858.7,1301.9 1860.7,1302.1 1862.8,1302.3 1864.9,1302.5 1866.9,1302.7 1869.0,1302.9 1871.1,1303.1 1873.1,1303.3 1875.2,1303.5 1877.3,1303.7 1879.3,1303.9 1881.4,1304.0 1883.5,1304.2 1885.5,1304.4 1887.6,1304.6 1889.7,1304.8 1891.7,1304.9 1893.8,1305.1 1895.9,1305.3 1897.9,1305.4 1900.0,1305.6 1902.1,1305.8 1904.1,1305.9 1906.2,1306.1 1908.3,1306.3 1910.4,1306.4 1912.4,1306.6 1914.5,1306.7 1916.6,1306.9 1918.6,1307.0 1920.7,1307.2 1922.8,1307.3 1924.8,1307.5 1926.9,1307.6 1929.0,1307.8 1931.0,1307.9 1933.1,1308.1 1935.2,1308.2 1937.2,1308.3 1939.3,1308.5 1941.4,1308.6 1943.4,1308.8 1945.5,1308.9 1947.6,1309.0 1949.6,1309.2 1951.7,1309.3 1953.8,1309.4 1955.8,1309.5 1957.9,1309.7 1960.0,1309.8 1962.0,1309.9 1964.1,1310.0 1966.2,1310.2 1968.2,1310.3 1970.3,1310.4 1972.4,1310.5 1974.4,1310.6 1976.5,1310.8 1978.6,1310.9 1980.7,1311.0 1982.7,1311.1 1984.8,1311.2 1986.9,1311.3 1988.9,1311.4 1991.0,1311.5 1993.1,1311.6 1995.1,1311.7 1997.2,1311.9 1999.3,1312.0 2001.3,1312.1 2003.4,1312.2 2005.5,1312.3 2007.5,1312.4 2009.6,1312.5" fill="none" stroke="#808080" stroke-width="4.2"/>
<polyline points="1184.6,588.6 1186.7,592.0 1188.7,595.3 1190.8,598.6 1192.9,601.9 1194.9,605.2 1197.0,608.5 1199.1,611.7 1201.1,615.0 1203.2,618.2 1205.3,621.4 1207.3,624.6 1209.4,627.8 1211.5,631.0 1213.5,634.1 1215.6,637.2 1217.7,640.4 1219.8,643.5 1221.8,646.6 1223.9,649.7 1226.0,652.7 1228.0,655.8 1230.1,658.8 1232.2,661.9 1234.2,664.9 1236.3,667.9 1238.4,670.9 1240.4,673.9 1242.5,676.8 1244.6,679.8 1246.6,682.7 1248.7,685.6 1250.8,688.5 1252.8,691.4 1254.9,694.3 1257.0,697.2 1259.0,700.0 1261.1,702.9 1263.2,705.7 1265.2,708.5 1267.3,711.3 1269.4,714.1 1271.4,716.9 1273.5,719.7 1275.6,722.5 1277.6,725.2 1279.7,727.9 1281.8,730.7 1283.8,733.4 1285.9,736.1 1288.0,738.7 1290.1,741.4 1292.1,744.1 1294.2,746.7 1296.3,749.4 1298.3,752.0 1300.4,754.6 1302.5,757.2 1304.5,759.8 1306.6,762.4 1308.7,764.9 1310.7,767.5 1312.8,770.0 1314.9,772.6 1316.9,775.1 1319.0,777.6 1321.1,780.1 1323.1,782.6 1325.2,785.1 1327.3,787.5 1329.3,790.0 1331.4,792.4 1333.5,794.9 1335.5,797.3 1337.6,799.7 1339.7,802.1 1341.7,804.5 1343.8,806.9 1345.9,809.2 1347.9,811.6 1350.0,814.0 1352.1,816.3 1354.1,818.6 1356.2,820.9 1358.3,823.2 1360.4,825.5 1362.4,827.8 1364.5,830.1 1366.6,832.4 1368.6,834.6 1370.7,836.9 1372.8,839.1 1374.8,841.3 1376.9,843.5 1379.0,845.7 1381.0,847.9 1383.1,850.1 1385.2,852.3 1387.2,854.5 1389.3,856.6 1391.4,858.8 1393.4,860.9 1395.5,863.0 1397.6,865.1 1399.6,867.3 1401.7,869.4 1403.8,871.4 1405.8,873.5 1407.9,875.6 1410.0,877.7 1412.0,879.7 1414.1,881.8 1416.2,883.8 1418.2,885.8 1420.3,887.8 1422.4,889.8 1424.4,891.8 1426.5,893.8 1428.6,895.8 1430.7,897.8 1432.7,899.7 1434.8,901.7 1436.9,903.6 1438.9,905.6 1441.0,907.5 1443.1,909.4 1445.1,911.3 1447.2,913.2 1449.3,915.1 1451.3,917.0 1453.4,918.9 1455.5,920.8 1457.5,922.6 1459.6,924.5 1461.7,926.3 1463.7,928.2 1465.8,930.0 1467.9,931.8 1469.9,933.6 1472.0,935.4 1474.1,937.2 1476.1,939.0 1478.2,940.8 1480.3,942.5 1482.3,944.3 1484.4,946.1 1486.5,947.8 1488.5,949.6 1490.6,951.3 1492.7,953.0 1494.8,954.7 1496.8,956.4 1498.9,958.1 1501.0,959.8 1503.0,961.5 1505.1,963.2 1507.2,964.9 1509.2,966.5 1511.3,968.2 1513.4,969.8 1515.4,971.5 1517.5,973.1 1519.6,974.7 1521.6,976.4 1523.7,978.0 1525.8,979.6 1527.8,981.2 1529.9,982.8 1532.0,984.3 1534.0,985.9 1536.1,987.5 1538.2,989.1 1540.2,990.6 1542.3,992.2 1544.4,993.7 1546.4,995.2 1548.5,996.8 1550.6,998.3 1552.6,999.8 1554.7,1001.3 1556.8,1002.8 1558.8,1004.3 1560.9,1005.8 1563.0,1007.3 1565.1,1008.7 1567.1,1010.2 1569.2,1011.7 1571.3,1013.1 1573.3,1014.6 1575.4,1016.0 1577.5,1017.5 1579.5,1018.9 1581.6,1020.3 1583.7,1021.7 1585.7,1023.1 1587.8,1024.5 1589.9,1025.9 1591.9,1027.3 1594.0,1028.7 1596.1,1030.1 1598.1,1031.5 1600.2,1032.8 1602.3,1034.2 1604.3,1035.5 1606.4,1036.9 1608.5,1038.2 1610.5,1039.6 1612.6,1040.9 1614.7,1042.2 1616.7,1043.5 1618.8,1044.8 1620.9,1046.2 1622.9,1047.5 1625.0,1048.7 1627.1,1050.0 1629.1,1051.3 1631.2,1052.6 1633.3,1053.9 1635.4,1055.1 1637.4,1056.4 1639.5,1057.7 1641.6,1058.9 1643.6,1060.1 1645.7,1061.4 1647.8,1062.6 1649.8,1063.8 1651.9,1065.1 1654.0,1066.3 1656.0,1067.5 1658.1,1068.7 1660.2,1069.9 1662.2,1071.1 1664.3,1072.3 1666.4,1073.5 1668.4,1074.6 1670.5,1075.8 1672.6,1077.0 1674.6,1078.1 1676.7,1079.3 1678.8,1080.5 1680.8,1081.6 1682.9,1082.7 1685.0,1083.9 1687.0,1085.0 1689.1,1086.1 1691.2,1087.3 1693.2,1088.4 1695.3,1089.5 1697.4,1090.6 1699.4,1091.7 1701.5,1092.8 1703.6,1093.9 1705.7,1095.0 1707.7,1096.1 1709.8,1097.1 1711.9,1098.2 1713.9,1099.3 1716.0,1100.3 1718.1,1101.4 1720.1,1102.5 1722.2,1103.5 1724.3,1104.6 1726.3,1105.6 1728.4,1106.6 1730.5,1107.7 1732.5,1108.7 1734.6,1109.7 1736.7,1110.7 1738.7,1111.7 1740.8,1112.7 1742.9,1113.7 1744.9,1114.7 1747.0,1115.7 1749.1,1116.7 1751.1,1117.7 1753.2,1118.7 1755.3,1119.7 1757.3,1120.6 1759.4,1121.6 1761.5,1122.6 1763.5,1123.5 1765.6,1124.5 1767.7,1125.4 1769.8,1126.4 1771.8,1127.3 1773.9,1128.3 1776.0,1129.2 1778.0,1130.1 1780.1,1131.1 1782.2,1132.0 1784.2,1132.9 1786.3,1133.8 1788.4,1134.7 1790.4,1135.6 1792.5,1136.5 1794.6,1137.4 1796.6,1138.3 1798.7,1139.2 1800.8,1140.1 1802.8,1141.0 1804.9,1141.9 1807.0,1142.7 1809.0,1143.6 1811.1,1144.5 1813.2,1145.3 1815.2,1146.2 1817.3,1147.0 1819.4,1147.9 1821.4,1148.7 1823.5,1149.6 1825.6,1150.4 1827.6,1151.3 1829.7,1152.1 1831.8,1152.9 1833.8,1153.7 1835.9,1154.6 1838.0,1155.4 1840.1,1156.2 1842.1,1157.0 1844.2,1157.8 1846.3,1158.6 1848.3,1159.4 1850.4,1160.2 1852.5,1161.0 1854.5,1161.8 1856.6,1162.6 1858.7,1163.3 1860.7,1164.1 1862.8,1164.9 1864.9,1165.7 1866.9,1166.4 1869.0,1167.2 1871.1,1168.0 1873.1,1168.7 1875.2,1169.5 1877.3,1170.2 1879.3,1171.0 1881.4,1171.7 1883.5,1172.4 1885.5,1173.2 1887.6,1173.9 1889.7,1174.6 1891.7,1175.4 1893.8,1176.1 1895.9,1176.8 1897.9,1177.5 1900.0,1178.3 1902.1,1179.0 1904.1,1179.7 1906.2,1180.4 1908.3,1181.1 1910.4,1181.8 1912.4,1182.5 1914.5,1183.2 1916.6,1183.9 1918.6,1184.5 1920.7,1185.2 1922.8,1185.9 1924.8,1186.6 1926.9,1187.3 1929.0,1187.9 1931.0,1188.6 1933.1,1189.3 1935.2,1189.9 1937.2,1190.6 1939.3,1191.2 1941.4,1191.9 1943.4,1192.5 1945.5,1193.2 1947.6,1193.8 1949.6,1194.5 1951.7,1195.1 1953.8,1195.7 1955.8,1196.4 1957.9,1197.0 1960.0,1197.6 1962.0,1198.3 1964.1,1198.9 1966.2,1199.5 1968.2,1200.1 1970.3,1200.7 1972.4,1201.3 1974.4,1201.9 1976.5,1202.6 1978.6,1203.2 1980.7,1203.8 1982.7,1204.3 1984.8,1204.9 1986.9,1205.5 1988.9,1206.1 1991.0,1206.7 1993.1,1207.3 1995.1,1207.9 1997.2,1208.5 1999.3,1209.0 2001.3,1209.6 2003.4,1210.2 2005.5,1210.7 2007.5,1211.3 2009.6,1211.9" fill="none" stroke="#808080" stroke-width="4.2"/>
<g fill="#000"><circle cx="1184.6" cy="914.3" r="3.8"/><circle cx="1192.8" cy="914.3" r="3.8"/><circle cx="1201.1" cy="911.5" r="3.8"/><circle cx="1209.3" cy="911.5" r="3.8"/><circle cx="1217.6" cy="908.9" r="3.8"/><circle cx="1225.8" cy="906.1" r="3.8"/><circle cx="1234.1" cy="906.1" r="3.8"/><circle cx="1242.3" cy="903.2" r="3.8"/><circle cx="1250.6" cy="900.6" r="3.8"/><circle cx="1258.8" cy="898.1" r="3.8"/><circle cx="1267.1" cy="895.2" r="3.8"/><circle cx="1275.3" cy="889.8" r="3.8"/><circle cx="1283.6" cy="886.8" r="3.8"/><circle cx="1291.8" cy="886.8" r="3.8"/><circle cx="1300.1" cy="884.2" r="3.8"/><circle cx="1308.3" cy="884.2" r="3.8"/><circle cx="1316.6" cy="881.2" r="3.8"/><circle cx="1324.8" cy="881.2" r="3.8"/><circle cx="1333.1" cy="881.2" r="3.8"/><circle cx="1341.3" cy="884.2" r="3.8"/><circle cx="1349.6" cy="884.2" r="3.8"/><circle cx="1357.8" cy="884.2" r="3.8"/><circle cx="1366.1" cy="889.8" r="3.8"/><circle cx="1374.3" cy="886.8" r="3.8"/><circle cx="1382.6" cy="886.8" r="3.8"/><circle cx="1390.8" cy="898.1" r="3.8"/><circle cx="1399.1" cy="900.6" r="3.8"/><circle cx="1407.3" cy="900.6" r="3.8"/><circle cx="1415.6" cy="906.1" r="3.8"/><circle cx="1423.8" cy="914.3" r="3.8"/><circle cx="1432.1" cy="916.9" r="3.8"/><circle cx="1440.3" cy="916.9" r="3.8"/><circle cx="1448.6" cy="922.3" r="3.8"/><circle cx="1456.8" cy="930.6" r="3.8"/><circle cx="1465.1" cy="925.1" r="3.8"/><circle cx="1473.3" cy="944.5" r="3.8"/><circle cx="1481.6" cy="952.4" r="3.8"/><circle cx="1489.8" cy="952.4" r="3.8"/><circle cx="1498.1" cy="955.3" r="3.8"/><circle cx="1506.3" cy="966.1" r="3.8"/><circle cx="1514.6" cy="976.9" r="3.8"/><circle cx="1522.8" cy="968.9" r="3.8"/><circle cx="1531.1" cy="968.9" r="3.8"/><circle cx="1539.3" cy="993.8" r="3.8"/><circle cx="1547.6" cy="996.4" r="3.8"/><circle cx="1555.8" cy="1001.8" r="3.8"/><circle cx="1564.1" cy="1020.9" r="3.8"/><circle cx="1572.3" cy="1018.1" r="3.8"/><circle cx="1580.6" cy="1015.5" r="3.8"/><circle cx="1588.8" cy="1026.3" r="3.8"/><circle cx="1597.1" cy="1029.1" r="3.8"/><circle cx="1605.3" cy="1037.3" r="3.8"/><circle cx="1613.6" cy="1043.1" r="3.8"/><circle cx="1621.8" cy="1040.2" r="3.8"/><circle cx="1630.1" cy="1043.1" r="3.8"/><circle cx="1638.3" cy="1054.0" r="3.8"/><circle cx="1646.6" cy="1062.1" r="3.8"/><circle cx="1654.8" cy="1073.1" r="3.8"/><circle cx="1663.1" cy="1070.1" r="3.8"/><circle cx="1671.3" cy="1076.0" r="3.8"/><circle cx="1679.6" cy="1097.4" r="3.8"/><circle cx="1687.8" cy="1086.4" r="3.8"/><circle cx="1696.1" cy="1086.4" r="3.8"/><circle cx="1704.3" cy="1094.5" r="3.8"/><circle cx="1712.6" cy="1111.3" r="3.8"/><circle cx="1720.8" cy="1105.9" r="3.8"/><circle cx="1729.1" cy="1113.8" r="3.8"/><circle cx="1737.3" cy="1105.9" r="3.8"/><circle cx="1745.6" cy="1116.9" r="3.8"/><circle cx="1753.8" cy="1116.9" r="3.8"/><circle cx="1762.1" cy="1121.7" r="3.8"/><circle cx="1770.3" cy="1124.7" r="3.8"/><circle cx="1778.6" cy="1133.2" r="3.8"/><circle cx="1786.8" cy="1135.9" r="3.8"/><circle cx="1795.1" cy="1144.2" r="3.8"/><circle cx="1803.3" cy="1144.2" r="3.8"/><circle cx="1811.6" cy="1155.1" r="3.8"/><circle cx="1819.8" cy="1158.3" r="3.8"/><circle cx="1828.1" cy="1144.2" r="3.8"/><circle cx="1836.3" cy="1163.6" r="3.8"/><circle cx="1844.6" cy="1166.3" r="3.8"/><circle cx="1852.8" cy="1168.7" r="3.8"/><circle cx="1861.1" cy="1163.6" r="3.8"/><circle cx="1869.3" cy="1168.7" r="3.8"/><circle cx="1877.6" cy="1174.1" r="3.8"/><circle cx="1885.8" cy="1174.1" r="3.8"/><circle cx="1894.1" cy="1177.0" r="3.8"/><circle cx="1902.3" cy="1179.7" r="3.8"/><circle cx="1910.6" cy="1185.1" r="3.8"/><circle cx="1918.8" cy="1193.5" r="3.8"/><circle cx="1927.1" cy="1185.1" r="3.8"/><circle cx="1935.3" cy="1185.1" r="3.8"/><circle cx="1943.6" cy="1196.0" r="3.8"/><circle cx="1951.8" cy="1196.0" r="3.8"/><circle cx="1960.1" cy="1204.5" r="3.8"/><circle cx="1968.3" cy="1198.9" r="3.8"/><circle cx="1976.6" cy="1204.5" r="3.8"/><circle cx="1984.8" cy="1204.5" r="3.8"/><circle cx="1993.1" cy="1204.5" r="3.8"/><circle cx="2001.3" cy="1204.5" r="3.8"/><circle cx="2009.6" cy="1207.5" r="3.8"/></g>
<g fill="#ff0000"><circle cx="1184.6" cy="914.3" r="3.8"/><circle cx="1192.8" cy="914.3" r="3.8"/><circle cx="1201.1" cy="916.9" r="3.8"/><circle cx="1209.3" cy="922.3" r="3.8"/><circle cx="1217.6" cy="927.7" r="3.8"/><circle cx="1225.8" cy="933.6" r="3.8"/><circle cx="1234.1" cy="944.4" r="3.8"/><circle cx="1242.3" cy="955.4" r="3.8"/><circle cx="1250.6" cy="963.4" r="3.8"/><circle cx="1258.8" cy="977.2" r="3.8"/><circle cx="1267.1" cy="977.2" r="3.8"/><circle cx="1275.3" cy="999.2" r="3.8"/><circle cx="1283.6" cy="999.2" r="3.8"/><circle cx="1291.8" cy="1018.1" r="3.8"/><circle cx="1300.1" cy="1018.1" r="3.8"/><circle cx="1308.3" cy="1037.1" r="3.8"/><circle cx="1316.6" cy="1048.4" r="3.8"/><circle cx="1324.8" cy="1050.8" r="3.8"/><circle cx="1333.1" cy="1067.5" r="3.8"/><circle cx="1341.3" cy="1080.9" r="3.8"/><circle cx="1349.6" cy="1080.9" r="3.8"/><circle cx="1357.8" cy="1095.0" r="3.8"/><circle cx="1366.1" cy="1106.0" r="3.8"/><circle cx="1374.3" cy="1116.8" r="3.8"/><circle cx="1382.6" cy="1122.2" r="3.8"/><circle cx="1390.8" cy="1119.4" r="3.8"/><circle cx="1399.1" cy="1141.3" r="3.8"/><circle cx="1407.3" cy="1135.9" r="3.8"/><circle cx="1415.6" cy="1149.8" r="3.8"/><circle cx="1423.8" cy="1157.5" r="3.8"/><circle cx="1432.1" cy="1163.4" r="3.8"/><circle cx="1440.3" cy="1166.0" r="3.8"/><circle cx="1448.6" cy="1185.1" r="3.8"/><circle cx="1456.8" cy="1187.7" r="3.8"/><circle cx="1465.1" cy="1187.7" r="3.8"/><circle cx="1473.3" cy="1198.7" r="3.8"/><circle cx="1481.6" cy="1204.1" r="3.8"/><circle cx="1489.8" cy="1212.6" r="3.8"/><circle cx="1498.1" cy="1206.7" r="3.8"/><circle cx="1506.3" cy="1206.7" r="3.8"/><circle cx="1514.6" cy="1218.0" r="3.8"/><circle cx="1522.8" cy="1220.8" r="3.8"/><circle cx="1531.1" cy="1226.3" r="3.8"/><circle cx="1539.3" cy="1234.2" r="3.8"/><circle cx="1547.6" cy="1237.1" r="3.8"/><circle cx="1555.8" cy="1234.2" r="3.8"/><circle cx="1564.1" cy="1239.9" r="3.8"/><circle cx="1572.3" cy="1242.4" r="3.8"/><circle cx="1580.6" cy="1250.7" r="3.8"/><circle cx="1588.8" cy="1256.1" r="3.8"/><circle cx="1597.1" cy="1250.7" r="3.8"/><circle cx="1605.3" cy="1258.7" r="3.8"/><circle cx="1613.6" cy="1256.1" r="3.8"/><circle cx="1621.8" cy="1256.1" r="3.8"/><circle cx="1630.1" cy="1261.6" r="3.8"/><circle cx="1638.3" cy="1266.8" r="3.8"/><circle cx="1646.6" cy="1269.5" r="3.8"/><circle cx="1654.8" cy="1266.8" r="3.8"/><circle cx="1663.1" cy="1272.4" r="3.8"/><circle cx="1671.3" cy="1269.5" r="3.8"/><circle cx="1679.6" cy="1277.6" r="3.8"/><circle cx="1687.8" cy="1269.5" r="3.8"/><circle cx="1696.1" cy="1275.0" r="3.8"/><circle cx="1704.3" cy="1275.0" r="3.8"/><circle cx="1712.6" cy="1277.8" r="3.8"/><circle cx="1720.8" cy="1277.8" r="3.8"/><circle cx="1729.1" cy="1288.7" r="3.8"/><circle cx="1737.3" cy="1285.8" r="3.8"/><circle cx="1745.6" cy="1280.4" r="3.8"/><circle cx="1753.8" cy="1283.2" r="3.8"/><circle cx="1762.1" cy="1291.2" r="3.8"/><circle cx="1770.3" cy="1288.7" r="3.8"/><circle cx="1778.6" cy="1296.6" r="3.8"/><circle cx="1786.8" cy="1294.0" r="3.8"/><circle cx="1795.1" cy="1294.0" r="3.8"/><circle cx="1803.3" cy="1294.7" r="3.8"/><circle cx="1811.6" cy="1297.4" r="3.8"/><circle cx="1819.8" cy="1297.4" r="3.8"/><circle cx="1828.1" cy="1297.4" r="3.8"/><circle cx="1836.3" cy="1300.0" r="3.8"/><circle cx="1844.6" cy="1302.6" r="3.8"/><circle cx="1852.8" cy="1300.0" r="3.8"/><circle cx="1861.1" cy="1302.6" r="3.8"/><circle cx="1869.3" cy="1305.6" r="3.8"/><circle cx="1877.6" cy="1302.6" r="3.8"/><circle cx="1885.8" cy="1308.3" r="3.8"/><circle cx="1894.1" cy="1305.6" r="3.8"/><circle cx="1902.3" cy="1308.3" r="3.8"/><circle cx="1910.6" cy="1308.3" r="3.8"/><circle cx="1918.8" cy="1305.6" r="3.8"/><circle cx="1927.1" cy="1310.9" r="3.8"/><circle cx="1935.3" cy="1308.3" r="3.8"/><circle cx="1943.6" cy="1308.3" r="3.8"/><circle cx="1951.8" cy="1308.3" r="3.8"/><circle cx="1960.1" cy="1313.6" r="3.8"/><circle cx="1968.3" cy="1313.6" r="3.8"/><circle cx="1976.6" cy="1308.3" r="3.8"/><circle cx="1984.8" cy="1310.9" r="3.8"/><circle cx="1993.1" cy="1313.6" r="3.8"/><circle cx="2001.3" cy="1316.5" r="3.8"/><circle cx="2009.6" cy="1313.6" r="3.8"/></g>
</g>
<rect x="1167.5" y="843.4" width="858.9" height="530.6" fill="none" stroke="#000" stroke-width="3"/>
<path d="M1167.5 1347.6h10.4 M1167.5 1268.0h10.4 M1167.5 1188.5h10.4 M1167.5 1108.9h10.4 M1167.5 1029.3h10.4 M1167.5 949.7h10.4 M1167.5 870.2h10.4 M1167.5 1363.5h6.4 M1167.5 1331.7h6.4 M1167.5 1315.8h6.4 M1167.5 1299.9h6.4 M1167.5 1283.9h6.4 M1167.5 1252.1h6.4 M1167.5 1236.2h6.4 M1167.5 1220.3h6.4 M1167.5 1204.4h6.4 M1167.5 1172.5h6.4 M1167.5 1156.6h6.4 M1167.5 1140.7h6.4 M1167.5 1124.8h6.4 M1167.5 1093.0h6.4 M1167.5 1077.1h6.4 M1167.5 1061.1h6.4 M1167.5 1045.2h6.4 M1167.5 1013.4h6.4 M1167.5 997.5h6.4 M1167.5 981.6h6.4 M1167.5 965.7h6.4 M1167.5 933.8h6.4 M1167.5 917.9h6.4 M1167.5 902.0h6.4 M1167.5 886.1h6.4 M1167.5 854.3h6.4 M2026.4 1347.6h-10.4 M2026.4 1307.8h-10.4 M2026.4 1188.5h-10.4 M2026.4 1029.3h-10.4 M2026.4 870.2h-10.4 M2026.4 1268.0h-6.4 M2026.4 1228.2h-6.4 M2026.4 1148.7h-6.4 M2026.4 1108.9h-6.4 M2026.4 1069.1h-6.4 M2026.4 989.5h-6.4 M2026.4 949.7h-6.4 M2026.4 910.0h-6.4" stroke="#000" stroke-width="2.3" fill="none"/>
<path d="M1184.6 1374.0v-8M1184.6 843.4v8 M1349.6 1374.0v-8M1349.6 843.4v8 M1514.6 1374.0v-8M1514.6 843.4v8 M1679.6 1374.0v-8M1679.6 843.4v8 M1844.6 1374.0v-8M1844.6 843.4v8 M2009.6 1374.0v-8M2009.6 843.4v8 M1225.8 1374.0v-6M1225.8 843.4v6 M1267.1 1374.0v-6M1267.1 843.4v6 M1308.3 1374.0v-6M1308.3 843.4v6 M1390.8 1374.0v-6M1390.8 843.4v6 M1432.1 1374.0v-6M1432.1 843.4v6 M1473.3 1374.0v-6M1473.3 843.4v6 M1555.8 1374.0v-6M1555.8 843.4v6 M1597.1 1374.0v-6M1597.1 843.4v6 M1638.3 1374.0v-6M1638.3 843.4v6 M1720.8 1374.0v-6M1720.8 843.4v6 M1762.1 1374.0v-6M1762.1 843.4v6 M1803.3 1374.0v-6M1803.3 843.4v6 M1885.8 1374.0v-6M1885.8 843.4v6 M1927.1 1374.0v-6M1927.1 843.4v6 M1968.3 1374.0v-6M1968.3 843.4v6" stroke="#000" stroke-width="2.3" fill="none"/>
<text x="1157.0" y="1359.4" text-anchor="end" font-size="33" >0.0</text>
<text x="1157.0" y="1279.8" text-anchor="end" font-size="33" >0.1</text>
<text x="1157.0" y="1200.3" text-anchor="end" font-size="33" >0.2</text>
<text x="1157.0" y="1120.7" text-anchor="end" font-size="33" >0.3</text>
<text x="1157.0" y="1041.1" text-anchor="end" font-size="33" >0.4</text>
<text x="1157.0" y="961.5" text-anchor="end" font-size="33" >0.5</text>
<text x="1157.0" y="882.0" text-anchor="end" font-size="33" >0.6</text>
<text x="1184.6" y="1415.4" text-anchor="middle" font-size="33" >0.0</text>
<text x="1349.6" y="1415.4" text-anchor="middle" font-size="33" >0.2</text>
<text x="1514.6" y="1415.4" text-anchor="middle" font-size="33" >0.4</text>
<text x="1679.6" y="1415.4" text-anchor="middle" font-size="33" >0.6</text>
<text x="1844.6" y="1415.4" text-anchor="middle" font-size="33" >0.8</text>
<text x="2009.6" y="1415.4" text-anchor="middle" font-size="33" >1.0</text>
<text x="1597.5" y="1472.6" text-anchor="middle" font-size="33" >W</text>
<g transform="translate(1088.4,1108.7) rotate(-90)"><text x="0" y="0" text-anchor="middle" font-size="33">&lt;R&gt;</text></g>
<g font-family="'Liberation Serif', 'Times New Roman', serif" font-size="60"><text x="1931.7" y="918.9">(</text><text x="1954.4" y="918.9" font-style="italic">f</text><text x="1981.6" y="918.9">)</text></g>
</svg>
</body></html>
